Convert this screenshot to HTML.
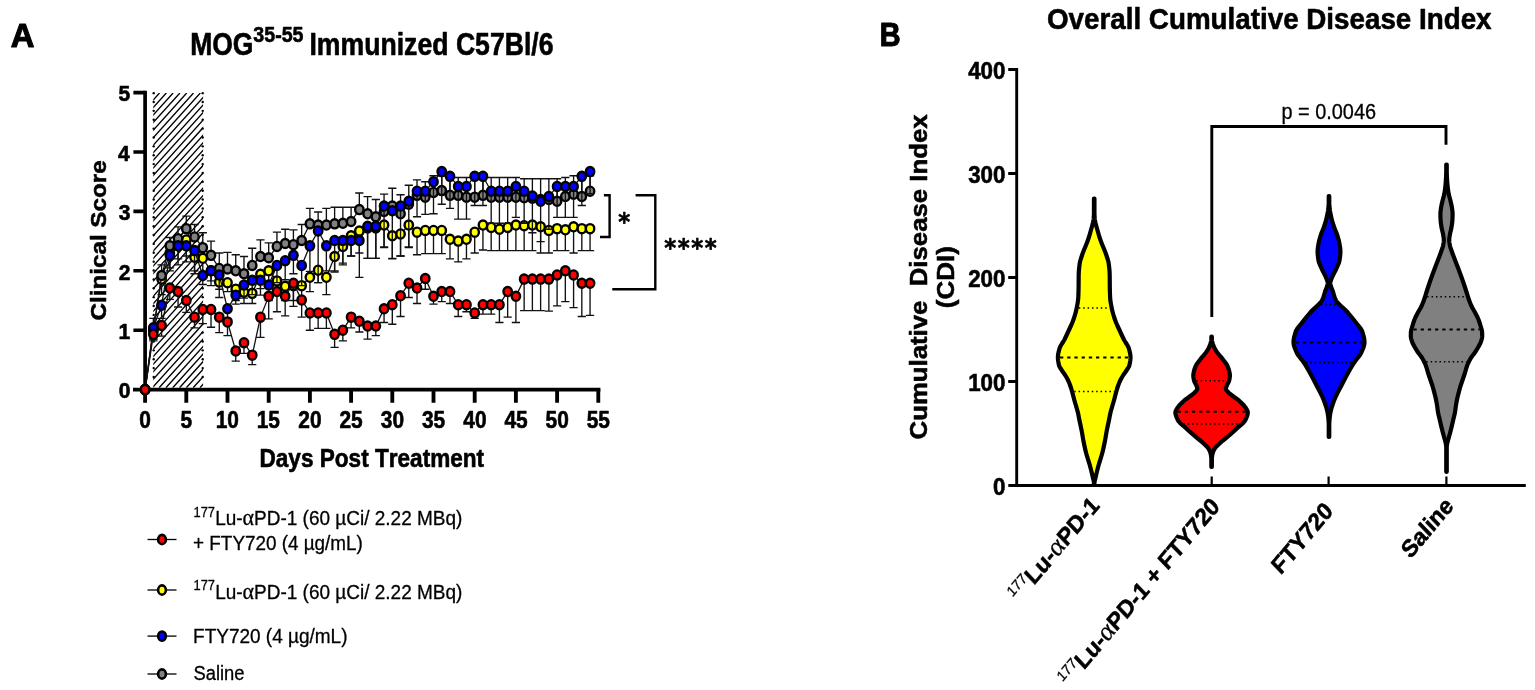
<!DOCTYPE html><html><head><meta charset="utf-8"><title>Figure</title><style>html,body{margin:0;padding:0;background:#fff;}svg{display:block;}text{font-kerning:none;}</style></head><body><svg width="1535" height="690" viewBox="0 0 1535 690" font-family="'Liberation Sans', Arial, Helvetica, sans-serif">
<style>text{stroke:#000;stroke-width:0.3px;stroke-linejoin:round}[font-weight=bold]{stroke-width:0.6px}[font-weight=normal]{stroke-width:0.3px}</style>
<rect width="1535" height="690" fill="#fff"/>
<clipPath id="hc"><rect x="153.3" y="93.0" width="49.79999999999998" height="294.8"/></clipPath>
<path clip-path="url(#hc)" d="M152.70,93.00L-112.89,387.80M159.50,93.00L-106.09,387.80M166.30,93.00L-99.29,387.80M173.10,93.00L-92.49,387.80M179.90,93.00L-85.69,387.80M186.70,93.00L-78.89,387.80M193.50,93.00L-72.09,387.80M200.30,93.00L-65.29,387.80M207.10,93.00L-58.49,387.80M213.90,93.00L-51.69,387.80M220.70,93.00L-44.89,387.80M227.50,93.00L-38.09,387.80M234.30,93.00L-31.29,387.80M241.10,93.00L-24.49,387.80M247.90,93.00L-17.69,387.80M254.70,93.00L-10.89,387.80M261.50,93.00L-4.09,387.80M268.30,93.00L2.71,387.80M275.10,93.00L9.51,387.80M281.90,93.00L16.31,387.80M288.70,93.00L23.11,387.80M295.50,93.00L29.91,387.80M302.30,93.00L36.71,387.80M309.10,93.00L43.51,387.80M315.90,93.00L50.31,387.80M322.70,93.00L57.11,387.80M329.50,93.00L63.91,387.80M336.30,93.00L70.71,387.80M343.10,93.00L77.51,387.80M349.90,93.00L84.31,387.80M356.70,93.00L91.11,387.80M363.50,93.00L97.91,387.80M370.30,93.00L104.71,387.80M377.10,93.00L111.51,387.80M383.90,93.00L118.31,387.80M390.70,93.00L125.11,387.80M397.50,93.00L131.91,387.80M404.30,93.00L138.71,387.80M411.10,93.00L145.51,387.80M417.90,93.00L152.31,387.80M424.70,93.00L159.11,387.80M431.50,93.00L165.91,387.80M438.30,93.00L172.71,387.80M445.10,93.00L179.51,387.80M451.90,93.00L186.31,387.80M458.70,93.00L193.11,387.80M465.50,93.00L199.91,387.80M472.30,93.00L206.71,387.80" stroke="#000" stroke-width="1.35" fill="none"/>
<g fill="#000"><circle cx="153.70" cy="93.13" r="1.2"/><circle cx="202.70" cy="93.13" r="1.2"/><circle cx="153.70" cy="102.00" r="1.2"/><circle cx="202.70" cy="102.00" r="1.2"/><circle cx="153.70" cy="110.87" r="1.2"/><circle cx="202.70" cy="110.87" r="1.2"/><circle cx="153.70" cy="119.74" r="1.2"/><circle cx="202.70" cy="119.74" r="1.2"/><circle cx="153.70" cy="128.61" r="1.2"/><circle cx="202.70" cy="128.61" r="1.2"/><circle cx="153.70" cy="137.48" r="1.2"/><circle cx="202.70" cy="137.48" r="1.2"/><circle cx="153.70" cy="146.35" r="1.2"/><circle cx="202.70" cy="146.35" r="1.2"/><circle cx="153.70" cy="155.22" r="1.2"/><circle cx="202.70" cy="155.22" r="1.2"/><circle cx="153.70" cy="164.09" r="1.2"/><circle cx="202.70" cy="164.09" r="1.2"/><circle cx="153.70" cy="172.96" r="1.2"/><circle cx="202.70" cy="172.96" r="1.2"/><circle cx="153.70" cy="181.83" r="1.2"/><circle cx="202.70" cy="181.83" r="1.2"/><circle cx="153.70" cy="190.70" r="1.2"/><circle cx="202.70" cy="190.70" r="1.2"/><circle cx="153.70" cy="199.57" r="1.2"/><circle cx="202.70" cy="199.57" r="1.2"/><circle cx="153.70" cy="208.44" r="1.2"/><circle cx="202.70" cy="208.44" r="1.2"/><circle cx="153.70" cy="217.31" r="1.2"/><circle cx="202.70" cy="217.31" r="1.2"/><circle cx="153.70" cy="226.18" r="1.2"/><circle cx="202.70" cy="226.18" r="1.2"/><circle cx="153.70" cy="235.05" r="1.2"/><circle cx="202.70" cy="235.05" r="1.2"/><circle cx="153.70" cy="243.92" r="1.2"/><circle cx="202.70" cy="243.92" r="1.2"/><circle cx="153.70" cy="252.79" r="1.2"/><circle cx="202.70" cy="252.79" r="1.2"/><circle cx="153.70" cy="261.66" r="1.2"/><circle cx="202.70" cy="261.66" r="1.2"/><circle cx="153.70" cy="270.53" r="1.2"/><circle cx="202.70" cy="270.53" r="1.2"/><circle cx="153.70" cy="279.40" r="1.2"/><circle cx="202.70" cy="279.40" r="1.2"/><circle cx="153.70" cy="288.27" r="1.2"/><circle cx="202.70" cy="288.27" r="1.2"/><circle cx="153.70" cy="297.14" r="1.2"/><circle cx="202.70" cy="297.14" r="1.2"/><circle cx="153.70" cy="306.01" r="1.2"/><circle cx="202.70" cy="306.01" r="1.2"/><circle cx="153.70" cy="314.88" r="1.2"/><circle cx="202.70" cy="314.88" r="1.2"/><circle cx="153.70" cy="323.75" r="1.2"/><circle cx="202.70" cy="323.75" r="1.2"/><circle cx="153.70" cy="332.62" r="1.2"/><circle cx="202.70" cy="332.62" r="1.2"/><circle cx="153.70" cy="341.49" r="1.2"/><circle cx="202.70" cy="341.49" r="1.2"/><circle cx="153.70" cy="350.36" r="1.2"/><circle cx="202.70" cy="350.36" r="1.2"/><circle cx="153.70" cy="359.23" r="1.2"/><circle cx="202.70" cy="359.23" r="1.2"/><circle cx="153.70" cy="368.10" r="1.2"/><circle cx="202.70" cy="368.10" r="1.2"/><circle cx="153.70" cy="376.97" r="1.2"/><circle cx="202.70" cy="376.97" r="1.2"/></g>
<g stroke="#000" fill="none">
<path d="M145.1,90.8V391.5" stroke-width="3.7"/>
<path d="M133.0,389.6H600.4" stroke-width="3.8"/>
<path d="M133.4,330.20H145M133.4,270.80H145M133.4,211.40H145M133.4,152.00H145M133.4,92.60H145" stroke-width="3.6"/>
<path d="M145.10,389.6V402.7M186.30,389.6V402.7M227.50,389.6V402.7M268.70,389.6V402.7M309.90,389.6V402.7M351.10,389.6V402.7M392.30,389.6V402.7M433.50,389.6V402.7M474.70,389.6V402.7M515.90,389.6V402.7M557.10,389.6V402.7M598.30,389.6V402.7" stroke-width="3.85"/>
</g>
<path d="M153.34,330.20V339.11M149.24,339.11H157.44M161.58,279.12V294.56M157.48,294.56H165.68M169.82,252.98V267.83M165.72,267.83H173.92M178.06,244.07V258.92M173.96,258.92H182.16M186.30,239.91V255.95M182.20,255.95H190.40M194.54,257.14V273.77M190.44,273.77H198.64M202.78,258.33V273.77M198.68,273.77H206.88M211.02,270.80V285.65M206.92,285.65H215.12M219.26,282.09V297.53M215.16,297.53H223.36M227.50,282.68V291.59M223.40,291.59H231.60M235.74,289.21V300.50M231.64,300.50H239.84M243.98,292.18V303.47M239.88,303.47H248.08M252.22,293.37V303.47M248.12,303.47H256.32M260.46,274.36V288.62M256.36,288.62H264.56M268.70,270.80V285.65M264.60,285.65H272.80M276.94,280.90V294.56M272.84,294.56H281.04M285.18,286.24V300.50M281.08,300.50H289.28M293.42,285.65V300.50M289.32,300.50H297.52M301.66,285.65V300.50M297.56,300.50H305.76M309.90,277.33V291.59M305.80,291.59H314.00M318.14,270.21V282.68M314.04,282.68H322.24M326.38,277.33V294.56M322.28,294.56H330.48M334.62,256.54V271.99M330.52,271.99H338.72M342.86,246.45V263.08M338.76,263.08H346.96M351.10,235.75V255.95M347.00,255.95H355.20M359.34,231.00V252.98M355.24,252.98H363.44M367.58,228.03V258.33M363.48,258.33H371.68M375.82,228.03V258.33M371.72,258.33H379.92M384.06,225.06V247.63M379.96,247.63H388.16M392.30,235.75V258.92M388.20,258.92H396.40M400.54,233.97V255.95M396.44,255.95H404.64M408.78,225.06V247.63M404.68,247.63H412.88M417.02,232.19V254.76M412.92,254.76H421.12M425.26,230.41V253.57M421.16,253.57H429.36M433.50,230.41V253.57M429.40,253.57H437.60M441.74,230.41V253.57M437.64,253.57H445.84M449.98,239.32V258.92M445.88,258.92H454.08M458.22,241.10V261.89M454.12,261.89H462.32M466.46,239.32V258.92M462.36,258.92H470.56M474.70,232.19V252.98M470.60,252.98H478.80M482.94,225.06V250.01M478.84,250.01H487.04M491.18,227.44V250.60M487.08,250.60H495.28M499.42,229.22V250.60M495.32,250.60H503.52M507.66,227.44V250.60M503.56,250.60H511.76M515.90,225.06V250.60M511.80,250.60H520.00M524.14,225.66V250.60M520.04,250.60H528.24M532.38,225.06V250.60M528.28,250.60H536.48M540.62,226.84V252.98M536.52,252.98H544.72M548.86,230.41V252.98M544.76,252.98H552.96M557.10,228.63V250.60M553.00,250.60H561.20M565.34,229.81V250.60M561.24,250.60H569.44M573.58,226.84V252.98M569.48,252.98H577.68M581.82,228.63V250.60M577.72,250.60H585.92M590.06,228.63V250.60M585.96,250.60H594.16" stroke="#111" stroke-width="1.35" fill="none"/>
<polyline points="145.10,389.60 153.34,330.20 161.58,279.12 169.82,252.98 178.06,244.07 186.30,239.91 194.54,257.14 202.78,258.33 211.02,270.80 219.26,282.09 227.50,282.68 235.74,289.21 243.98,292.18 252.22,293.37 260.46,274.36 268.70,270.80 276.94,280.90 285.18,286.24 293.42,285.65 301.66,285.65 309.90,277.33 318.14,270.21 326.38,277.33 334.62,256.54 342.86,246.45 351.10,235.75 359.34,231.00 367.58,228.03 375.82,228.03 384.06,225.06 392.30,235.75 400.54,233.97 408.78,225.06 417.02,232.19 425.26,230.41 433.50,230.41 441.74,230.41 449.98,239.32 458.22,241.10 466.46,239.32 474.70,232.19 482.94,225.06 491.18,227.44 499.42,229.22 507.66,227.44 515.90,225.06 524.14,225.66 532.38,225.06 540.62,226.84 548.86,230.41 557.10,228.63 565.34,229.81 573.58,226.84 581.82,228.63 590.06,228.63" stroke="#111" stroke-width="1.3" fill="none"/>
<g fill="#ffff00" stroke="#000" stroke-width="2.4"><ellipse cx="145.10" cy="389.60" rx="4.2" ry="4.55"/><ellipse cx="153.34" cy="330.20" rx="4.2" ry="4.55"/><ellipse cx="161.58" cy="279.12" rx="4.2" ry="4.55"/><ellipse cx="169.82" cy="252.98" rx="4.2" ry="4.55"/><ellipse cx="178.06" cy="244.07" rx="4.2" ry="4.55"/><ellipse cx="186.30" cy="239.91" rx="4.2" ry="4.55"/><ellipse cx="194.54" cy="257.14" rx="4.2" ry="4.55"/><ellipse cx="202.78" cy="258.33" rx="4.2" ry="4.55"/><ellipse cx="211.02" cy="270.80" rx="4.2" ry="4.55"/><ellipse cx="219.26" cy="282.09" rx="4.2" ry="4.55"/><ellipse cx="227.50" cy="282.68" rx="4.2" ry="4.55"/><ellipse cx="235.74" cy="289.21" rx="4.2" ry="4.55"/><ellipse cx="243.98" cy="292.18" rx="4.2" ry="4.55"/><ellipse cx="252.22" cy="293.37" rx="4.2" ry="4.55"/><ellipse cx="260.46" cy="274.36" rx="4.2" ry="4.55"/><ellipse cx="268.70" cy="270.80" rx="4.2" ry="4.55"/><ellipse cx="276.94" cy="280.90" rx="4.2" ry="4.55"/><ellipse cx="285.18" cy="286.24" rx="4.2" ry="4.55"/><ellipse cx="293.42" cy="285.65" rx="4.2" ry="4.55"/><ellipse cx="301.66" cy="285.65" rx="4.2" ry="4.55"/><ellipse cx="309.90" cy="277.33" rx="4.2" ry="4.55"/><ellipse cx="318.14" cy="270.21" rx="4.2" ry="4.55"/><ellipse cx="326.38" cy="277.33" rx="4.2" ry="4.55"/><ellipse cx="334.62" cy="256.54" rx="4.2" ry="4.55"/><ellipse cx="342.86" cy="246.45" rx="4.2" ry="4.55"/><ellipse cx="351.10" cy="235.75" rx="4.2" ry="4.55"/><ellipse cx="359.34" cy="231.00" rx="4.2" ry="4.55"/><ellipse cx="367.58" cy="228.03" rx="4.2" ry="4.55"/><ellipse cx="375.82" cy="228.03" rx="4.2" ry="4.55"/><ellipse cx="384.06" cy="225.06" rx="4.2" ry="4.55"/><ellipse cx="392.30" cy="235.75" rx="4.2" ry="4.55"/><ellipse cx="400.54" cy="233.97" rx="4.2" ry="4.55"/><ellipse cx="408.78" cy="225.06" rx="4.2" ry="4.55"/><ellipse cx="417.02" cy="232.19" rx="4.2" ry="4.55"/><ellipse cx="425.26" cy="230.41" rx="4.2" ry="4.55"/><ellipse cx="433.50" cy="230.41" rx="4.2" ry="4.55"/><ellipse cx="441.74" cy="230.41" rx="4.2" ry="4.55"/><ellipse cx="449.98" cy="239.32" rx="4.2" ry="4.55"/><ellipse cx="458.22" cy="241.10" rx="4.2" ry="4.55"/><ellipse cx="466.46" cy="239.32" rx="4.2" ry="4.55"/><ellipse cx="474.70" cy="232.19" rx="4.2" ry="4.55"/><ellipse cx="482.94" cy="225.06" rx="4.2" ry="4.55"/><ellipse cx="491.18" cy="227.44" rx="4.2" ry="4.55"/><ellipse cx="499.42" cy="229.22" rx="4.2" ry="4.55"/><ellipse cx="507.66" cy="227.44" rx="4.2" ry="4.55"/><ellipse cx="515.90" cy="225.06" rx="4.2" ry="4.55"/><ellipse cx="524.14" cy="225.66" rx="4.2" ry="4.55"/><ellipse cx="532.38" cy="225.06" rx="4.2" ry="4.55"/><ellipse cx="540.62" cy="226.84" rx="4.2" ry="4.55"/><ellipse cx="548.86" cy="230.41" rx="4.2" ry="4.55"/><ellipse cx="557.10" cy="228.63" rx="4.2" ry="4.55"/><ellipse cx="565.34" cy="229.81" rx="4.2" ry="4.55"/><ellipse cx="573.58" cy="226.84" rx="4.2" ry="4.55"/><ellipse cx="581.82" cy="228.63" rx="4.2" ry="4.55"/><ellipse cx="590.06" cy="228.63" rx="4.2" ry="4.55"/></g>
<path d="M153.34,330.20V318.32M149.24,318.32H157.44M161.58,275.55V264.86M157.48,264.86H165.68M169.82,245.85V237.54M165.72,237.54H173.92M178.06,238.72V226.84M173.96,226.84H182.16M186.30,228.63V216.15M182.20,216.15H190.40M194.54,236.94V224.47M190.44,224.47H198.64M202.78,247.63V232.78M198.68,232.78H206.88M211.02,255.36V241.10M206.92,241.10H215.12M219.26,268.42V252.98M215.16,252.98H223.36M227.50,269.02V252.39M223.40,252.39H231.60M235.74,270.80V254.76M231.64,254.76H239.84M243.98,273.77V256.54M239.88,256.54H248.08M252.22,265.45V248.23M248.12,248.23H256.32M260.46,256.54V239.91M256.36,239.91H264.56M268.70,257.73V242.88M264.60,242.88H272.80M276.94,246.45V232.19M272.84,232.19H281.04M285.18,243.48V229.22M281.08,229.22H289.28M293.42,244.66V229.81M289.32,229.81H297.52M301.66,240.51V224.47M297.56,224.47H305.76M309.90,223.87V208.43M305.80,208.43H314.00M318.14,225.06V211.99M314.04,211.99H322.24M326.38,225.06V208.43M322.28,208.43H330.48M334.62,223.87V207.24M330.52,207.24H338.72M342.86,223.28V207.24M338.76,207.24H346.96M351.10,221.50V207.24M347.00,207.24H355.20M359.34,209.62V192.99M355.24,192.99H363.44M367.58,213.78V196.55M363.48,196.55H371.68M375.82,216.75V199.52M371.72,199.52H379.92M384.06,211.40V194.17M379.96,194.17H388.16M392.30,206.05V188.23M388.20,188.23H396.40M400.54,213.78V194.77M396.44,194.77H404.64M408.78,204.27V185.26M404.68,185.26H412.88M417.02,195.36V179.92M412.92,179.92H421.12M425.26,197.14V181.70M421.16,181.70H429.36M433.50,192.39V175.76M429.40,175.76H437.60M441.74,190.61V175.76M437.64,175.76H445.84M449.98,195.36V177.54M445.88,177.54H454.08M458.22,195.36V177.54M454.12,177.54H462.32M466.46,197.14V177.54M462.36,177.54H470.56M474.70,197.14V177.54M470.60,177.54H478.80M482.94,195.36V177.54M478.84,177.54H487.04M491.18,197.14V177.54M487.08,177.54H495.28M499.42,197.14V177.54M495.32,177.54H503.52M507.66,197.14V177.54M503.56,177.54H511.76M515.90,197.14V177.54M511.80,177.54H520.00M524.14,197.74V178.73M520.04,178.73H528.24M532.38,198.33V178.73M528.28,178.73H536.48M540.62,199.52V178.73M536.52,178.73H544.72M548.86,199.52V178.73M544.76,178.73H552.96M557.10,201.30V178.73M553.00,178.73H561.20M565.34,196.55V177.54M561.24,177.54H569.44M573.58,194.17V175.76M569.48,175.76H577.68M581.82,196.55V177.54M577.72,177.54H585.92M590.06,191.20V175.76M585.96,175.76H594.16" stroke="#111" stroke-width="1.35" fill="none"/>
<polyline points="145.10,389.60 153.34,330.20 161.58,275.55 169.82,245.85 178.06,238.72 186.30,228.63 194.54,236.94 202.78,247.63 211.02,255.36 219.26,268.42 227.50,269.02 235.74,270.80 243.98,273.77 252.22,265.45 260.46,256.54 268.70,257.73 276.94,246.45 285.18,243.48 293.42,244.66 301.66,240.51 309.90,223.87 318.14,225.06 326.38,225.06 334.62,223.87 342.86,223.28 351.10,221.50 359.34,209.62 367.58,213.78 375.82,216.75 384.06,211.40 392.30,206.05 400.54,213.78 408.78,204.27 417.02,195.36 425.26,197.14 433.50,192.39 441.74,190.61 449.98,195.36 458.22,195.36 466.46,197.14 474.70,197.14 482.94,195.36 491.18,197.14 499.42,197.14 507.66,197.14 515.90,197.14 524.14,197.74 532.38,198.33 540.62,199.52 548.86,199.52 557.10,201.30 565.34,196.55 573.58,194.17 581.82,196.55 590.06,191.20" stroke="#111" stroke-width="1.3" fill="none"/>
<g fill="#808080" stroke="#000" stroke-width="2.4"><ellipse cx="145.10" cy="389.60" rx="4.2" ry="4.55"/><ellipse cx="153.34" cy="330.20" rx="4.2" ry="4.55"/><ellipse cx="161.58" cy="275.55" rx="4.2" ry="4.55"/><ellipse cx="169.82" cy="245.85" rx="4.2" ry="4.55"/><ellipse cx="178.06" cy="238.72" rx="4.2" ry="4.55"/><ellipse cx="186.30" cy="228.63" rx="4.2" ry="4.55"/><ellipse cx="194.54" cy="236.94" rx="4.2" ry="4.55"/><ellipse cx="202.78" cy="247.63" rx="4.2" ry="4.55"/><ellipse cx="211.02" cy="255.36" rx="4.2" ry="4.55"/><ellipse cx="219.26" cy="268.42" rx="4.2" ry="4.55"/><ellipse cx="227.50" cy="269.02" rx="4.2" ry="4.55"/><ellipse cx="235.74" cy="270.80" rx="4.2" ry="4.55"/><ellipse cx="243.98" cy="273.77" rx="4.2" ry="4.55"/><ellipse cx="252.22" cy="265.45" rx="4.2" ry="4.55"/><ellipse cx="260.46" cy="256.54" rx="4.2" ry="4.55"/><ellipse cx="268.70" cy="257.73" rx="4.2" ry="4.55"/><ellipse cx="276.94" cy="246.45" rx="4.2" ry="4.55"/><ellipse cx="285.18" cy="243.48" rx="4.2" ry="4.55"/><ellipse cx="293.42" cy="244.66" rx="4.2" ry="4.55"/><ellipse cx="301.66" cy="240.51" rx="4.2" ry="4.55"/><ellipse cx="309.90" cy="223.87" rx="4.2" ry="4.55"/><ellipse cx="318.14" cy="225.06" rx="4.2" ry="4.55"/><ellipse cx="326.38" cy="225.06" rx="4.2" ry="4.55"/><ellipse cx="334.62" cy="223.87" rx="4.2" ry="4.55"/><ellipse cx="342.86" cy="223.28" rx="4.2" ry="4.55"/><ellipse cx="351.10" cy="221.50" rx="4.2" ry="4.55"/><ellipse cx="359.34" cy="209.62" rx="4.2" ry="4.55"/><ellipse cx="367.58" cy="213.78" rx="4.2" ry="4.55"/><ellipse cx="375.82" cy="216.75" rx="4.2" ry="4.55"/><ellipse cx="384.06" cy="211.40" rx="4.2" ry="4.55"/><ellipse cx="392.30" cy="206.05" rx="4.2" ry="4.55"/><ellipse cx="400.54" cy="213.78" rx="4.2" ry="4.55"/><ellipse cx="408.78" cy="204.27" rx="4.2" ry="4.55"/><ellipse cx="417.02" cy="195.36" rx="4.2" ry="4.55"/><ellipse cx="425.26" cy="197.14" rx="4.2" ry="4.55"/><ellipse cx="433.50" cy="192.39" rx="4.2" ry="4.55"/><ellipse cx="441.74" cy="190.61" rx="4.2" ry="4.55"/><ellipse cx="449.98" cy="195.36" rx="4.2" ry="4.55"/><ellipse cx="458.22" cy="195.36" rx="4.2" ry="4.55"/><ellipse cx="466.46" cy="197.14" rx="4.2" ry="4.55"/><ellipse cx="474.70" cy="197.14" rx="4.2" ry="4.55"/><ellipse cx="482.94" cy="195.36" rx="4.2" ry="4.55"/><ellipse cx="491.18" cy="197.14" rx="4.2" ry="4.55"/><ellipse cx="499.42" cy="197.14" rx="4.2" ry="4.55"/><ellipse cx="507.66" cy="197.14" rx="4.2" ry="4.55"/><ellipse cx="515.90" cy="197.14" rx="4.2" ry="4.55"/><ellipse cx="524.14" cy="197.74" rx="4.2" ry="4.55"/><ellipse cx="532.38" cy="198.33" rx="4.2" ry="4.55"/><ellipse cx="540.62" cy="199.52" rx="4.2" ry="4.55"/><ellipse cx="548.86" cy="199.52" rx="4.2" ry="4.55"/><ellipse cx="557.10" cy="201.30" rx="4.2" ry="4.55"/><ellipse cx="565.34" cy="196.55" rx="4.2" ry="4.55"/><ellipse cx="573.58" cy="194.17" rx="4.2" ry="4.55"/><ellipse cx="581.82" cy="196.55" rx="4.2" ry="4.55"/><ellipse cx="590.06" cy="191.20" rx="4.2" ry="4.55"/></g>
<path d="M153.34,327.82V339.11M149.24,339.11H157.44M161.58,305.25V318.32M157.48,318.32H165.68M169.82,255.36V270.80M165.72,270.80H173.92M178.06,245.85V264.86M173.96,264.86H182.16M186.30,245.85V261.89M182.20,261.89H190.40M194.54,250.60V270.80M190.44,270.80H198.64M202.78,275.55V284.46M198.68,284.46H206.88M211.02,270.80V280.90M206.92,280.90H215.12M219.26,274.96V289.21M215.16,289.21H223.36M227.50,308.82V324.26M223.40,324.26H231.60M235.74,295.15V304.06M231.64,304.06H239.84M243.98,285.06V298.12M239.88,298.12H248.08M252.22,280.30V294.56M248.12,294.56H256.32M260.46,280.30V295.15M256.36,295.15H264.56M268.70,285.06V300.50M264.60,300.50H272.80M276.94,265.45V282.68M272.84,282.68H281.04M285.18,260.70V279.71M281.08,279.71H289.28M293.42,255.36V273.77M289.32,273.77H297.52M301.66,265.45V285.65M297.56,285.65H305.76M309.90,245.85V271.39M305.80,271.39H314.00M318.14,231.00V282.68M314.04,282.68H322.24M326.38,245.85V270.80M322.28,270.80H330.48M334.62,240.51V270.80M330.52,270.80H338.72M342.86,240.51V264.86M338.76,264.86H346.96M351.10,240.51V255.95M347.00,255.95H355.20M359.34,240.51V277.33M355.24,277.33H363.44M367.58,226.25V258.33M363.48,258.33H371.68M375.82,226.25V258.33M371.72,258.33H379.92M384.06,206.05V247.04M379.96,247.04H388.16M392.30,210.81V258.33M388.20,258.33H396.40M400.54,206.05V255.95M396.44,255.95H404.64M408.78,201.30V247.04M404.68,247.04H412.88M417.02,191.20V216.75M412.92,216.75H421.12M425.26,191.20V214.37M421.16,214.37H429.36M433.50,181.70V213.78M429.40,213.78H437.60M441.74,171.60V204.27M437.64,204.27H445.84M449.98,176.35V208.43M445.88,208.43H454.08M458.22,186.45V219.12M454.12,219.12H462.32M466.46,186.45V219.12M462.36,219.12H470.56M474.70,176.35V205.46M470.60,205.46H478.80M482.94,176.35V205.46M478.84,205.46H487.04M491.18,191.20V223.28M487.08,223.28H495.28M499.42,191.20V223.28M495.32,223.28H503.52M507.66,191.20V223.28M503.56,223.28H511.76M515.90,186.45V217.34M511.80,217.34H520.00M524.14,191.20V223.28M520.04,223.28H528.24M532.38,195.96V232.78M528.28,232.78H536.48M540.62,201.30V241.69M536.52,241.69H544.72M548.86,196.55V229.22M544.76,229.22H552.96M557.10,186.45V217.34M553.00,217.34H561.20M565.34,186.45V217.34M561.24,217.34H569.44M573.58,186.45V217.34M569.48,217.34H577.68M581.82,176.35V205.46M577.72,205.46H585.92M590.06,171.60V193.58M585.96,193.58H594.16" stroke="#111" stroke-width="1.35" fill="none"/>
<polyline points="145.10,389.60 153.34,327.82 161.58,305.25 169.82,255.36 178.06,245.85 186.30,245.85 194.54,250.60 202.78,275.55 211.02,270.80 219.26,274.96 227.50,308.82 235.74,295.15 243.98,285.06 252.22,280.30 260.46,280.30 268.70,285.06 276.94,265.45 285.18,260.70 293.42,255.36 301.66,265.45 309.90,245.85 318.14,231.00 326.38,245.85 334.62,240.51 342.86,240.51 351.10,240.51 359.34,240.51 367.58,226.25 375.82,226.25 384.06,206.05 392.30,210.81 400.54,206.05 408.78,201.30 417.02,191.20 425.26,191.20 433.50,181.70 441.74,171.60 449.98,176.35 458.22,186.45 466.46,186.45 474.70,176.35 482.94,176.35 491.18,191.20 499.42,191.20 507.66,191.20 515.90,186.45 524.14,191.20 532.38,195.96 540.62,201.30 548.86,196.55 557.10,186.45 565.34,186.45 573.58,186.45 581.82,176.35 590.06,171.60" stroke="#111" stroke-width="1.3" fill="none"/>
<g fill="#0000ff" stroke="#000" stroke-width="2.4"><ellipse cx="145.10" cy="389.60" rx="4.2" ry="4.55"/><ellipse cx="153.34" cy="327.82" rx="4.2" ry="4.55"/><ellipse cx="161.58" cy="305.25" rx="4.2" ry="4.55"/><ellipse cx="169.82" cy="255.36" rx="4.2" ry="4.55"/><ellipse cx="178.06" cy="245.85" rx="4.2" ry="4.55"/><ellipse cx="186.30" cy="245.85" rx="4.2" ry="4.55"/><ellipse cx="194.54" cy="250.60" rx="4.2" ry="4.55"/><ellipse cx="202.78" cy="275.55" rx="4.2" ry="4.55"/><ellipse cx="211.02" cy="270.80" rx="4.2" ry="4.55"/><ellipse cx="219.26" cy="274.96" rx="4.2" ry="4.55"/><ellipse cx="227.50" cy="308.82" rx="4.2" ry="4.55"/><ellipse cx="235.74" cy="295.15" rx="4.2" ry="4.55"/><ellipse cx="243.98" cy="285.06" rx="4.2" ry="4.55"/><ellipse cx="252.22" cy="280.30" rx="4.2" ry="4.55"/><ellipse cx="260.46" cy="280.30" rx="4.2" ry="4.55"/><ellipse cx="268.70" cy="285.06" rx="4.2" ry="4.55"/><ellipse cx="276.94" cy="265.45" rx="4.2" ry="4.55"/><ellipse cx="285.18" cy="260.70" rx="4.2" ry="4.55"/><ellipse cx="293.42" cy="255.36" rx="4.2" ry="4.55"/><ellipse cx="301.66" cy="265.45" rx="4.2" ry="4.55"/><ellipse cx="309.90" cy="245.85" rx="4.2" ry="4.55"/><ellipse cx="318.14" cy="231.00" rx="4.2" ry="4.55"/><ellipse cx="326.38" cy="245.85" rx="4.2" ry="4.55"/><ellipse cx="334.62" cy="240.51" rx="4.2" ry="4.55"/><ellipse cx="342.86" cy="240.51" rx="4.2" ry="4.55"/><ellipse cx="351.10" cy="240.51" rx="4.2" ry="4.55"/><ellipse cx="359.34" cy="240.51" rx="4.2" ry="4.55"/><ellipse cx="367.58" cy="226.25" rx="4.2" ry="4.55"/><ellipse cx="375.82" cy="226.25" rx="4.2" ry="4.55"/><ellipse cx="384.06" cy="206.05" rx="4.2" ry="4.55"/><ellipse cx="392.30" cy="210.81" rx="4.2" ry="4.55"/><ellipse cx="400.54" cy="206.05" rx="4.2" ry="4.55"/><ellipse cx="408.78" cy="201.30" rx="4.2" ry="4.55"/><ellipse cx="417.02" cy="191.20" rx="4.2" ry="4.55"/><ellipse cx="425.26" cy="191.20" rx="4.2" ry="4.55"/><ellipse cx="433.50" cy="181.70" rx="4.2" ry="4.55"/><ellipse cx="441.74" cy="171.60" rx="4.2" ry="4.55"/><ellipse cx="449.98" cy="176.35" rx="4.2" ry="4.55"/><ellipse cx="458.22" cy="186.45" rx="4.2" ry="4.55"/><ellipse cx="466.46" cy="186.45" rx="4.2" ry="4.55"/><ellipse cx="474.70" cy="176.35" rx="4.2" ry="4.55"/><ellipse cx="482.94" cy="176.35" rx="4.2" ry="4.55"/><ellipse cx="491.18" cy="191.20" rx="4.2" ry="4.55"/><ellipse cx="499.42" cy="191.20" rx="4.2" ry="4.55"/><ellipse cx="507.66" cy="191.20" rx="4.2" ry="4.55"/><ellipse cx="515.90" cy="186.45" rx="4.2" ry="4.55"/><ellipse cx="524.14" cy="191.20" rx="4.2" ry="4.55"/><ellipse cx="532.38" cy="195.96" rx="4.2" ry="4.55"/><ellipse cx="540.62" cy="201.30" rx="4.2" ry="4.55"/><ellipse cx="548.86" cy="196.55" rx="4.2" ry="4.55"/><ellipse cx="557.10" cy="186.45" rx="4.2" ry="4.55"/><ellipse cx="565.34" cy="186.45" rx="4.2" ry="4.55"/><ellipse cx="573.58" cy="186.45" rx="4.2" ry="4.55"/><ellipse cx="581.82" cy="176.35" rx="4.2" ry="4.55"/><ellipse cx="590.06" cy="171.60" rx="4.2" ry="4.55"/></g>
<path d="M153.34,334.36V340.89M149.24,340.89H157.44M161.58,325.45V336.14M157.48,336.14H165.68M169.82,288.03V299.31M165.72,299.31H173.92M178.06,291.59V307.03M173.96,307.03H182.16M186.30,300.50V312.38M182.20,312.38H190.40M194.54,317.13V327.82M190.44,327.82H198.64M202.78,309.41V323.67M198.68,323.67H206.88M211.02,309.41V327.23M206.92,327.23H215.12M219.26,317.13V332.58M215.16,332.58H223.36M227.50,321.88V335.55M223.40,335.55H231.60M235.74,350.99V361.09M231.64,361.09H239.84M243.98,342.67V353.37M239.88,353.37H248.08M252.22,355.15V364.65M248.12,364.65H256.32M260.46,317.13V337.33M256.36,337.33H264.56M268.70,296.34V318.91M264.60,318.91H272.80M276.94,291.59V311.79M272.84,311.79H281.04M285.18,296.34V315.94M281.08,315.94H289.28M293.42,283.27V306.44M289.32,306.44H297.52M301.66,299.91V317.13M297.56,317.13H305.76M309.90,312.97V330.20M305.80,330.20H314.00M318.14,312.97V328.42M314.04,328.42H322.24M326.38,312.97V328.42M322.28,328.42H330.48M334.62,334.36V347.43M330.52,347.43H338.72M342.86,330.20V340.89M338.76,340.89H346.96M351.10,317.13V327.82M347.00,327.82H355.20M359.34,321.29V331.98M355.24,331.98H363.44M367.58,326.04V339.11M363.48,339.11H371.68M375.82,326.04V335.55M371.72,335.55H379.92M384.06,308.82V322.48M379.96,322.48H388.16M392.30,304.66V324.26M388.20,324.26H396.40M400.54,295.75V316.54M396.44,316.54H404.64M408.78,283.27V297.53M404.68,297.53H412.88M417.02,288.03V303.47M412.92,303.47H421.12M425.26,278.52V289.21M421.16,289.21H429.36M433.50,296.34V304.06M429.40,304.06H437.60M441.74,291.59V301.69M437.64,301.69H445.84M449.98,291.59V303.47M445.88,303.47H454.08M458.22,304.66V316.54M454.12,316.54H462.32M466.46,304.66V311.79M462.36,311.79H470.56M474.70,312.97V318.32M470.60,318.32H478.80M482.94,304.66V314.16M478.84,314.16H487.04M491.18,304.66V314.16M487.08,314.16H495.28M499.42,304.66V322.48M495.32,322.48H503.52M507.66,291.59V317.13M503.56,317.13H511.76M515.90,296.34V322.48M511.80,322.48H520.00M524.14,279.12V310.60M520.04,310.60H528.24M532.38,279.12V310.60M528.28,310.60H536.48M540.62,279.12V310.60M536.52,310.60H544.72M548.86,279.12V311.19M544.76,311.19H552.96M557.10,274.96V305.85M553.00,305.85H561.20M565.34,270.80V301.69M561.24,301.69H569.44M573.58,274.96V307.63M569.48,307.63H577.68M581.82,283.27V316.54M577.72,316.54H585.92M590.06,283.27V315.35M585.96,315.35H594.16" stroke="#111" stroke-width="1.35" fill="none"/>
<polyline points="145.10,389.60 153.34,334.36 161.58,325.45 169.82,288.03 178.06,291.59 186.30,300.50 194.54,317.13 202.78,309.41 211.02,309.41 219.26,317.13 227.50,321.88 235.74,350.99 243.98,342.67 252.22,355.15 260.46,317.13 268.70,296.34 276.94,291.59 285.18,296.34 293.42,283.27 301.66,299.91 309.90,312.97 318.14,312.97 326.38,312.97 334.62,334.36 342.86,330.20 351.10,317.13 359.34,321.29 367.58,326.04 375.82,326.04 384.06,308.82 392.30,304.66 400.54,295.75 408.78,283.27 417.02,288.03 425.26,278.52 433.50,296.34 441.74,291.59 449.98,291.59 458.22,304.66 466.46,304.66 474.70,312.97 482.94,304.66 491.18,304.66 499.42,304.66 507.66,291.59 515.90,296.34 524.14,279.12 532.38,279.12 540.62,279.12 548.86,279.12 557.10,274.96 565.34,270.80 573.58,274.96 581.82,283.27 590.06,283.27" stroke="#111" stroke-width="1.3" fill="none"/>
<g fill="#ff0000" stroke="#000" stroke-width="2.4"><ellipse cx="145.10" cy="389.60" rx="4.2" ry="4.55"/><ellipse cx="153.34" cy="334.36" rx="4.2" ry="4.55"/><ellipse cx="161.58" cy="325.45" rx="4.2" ry="4.55"/><ellipse cx="169.82" cy="288.03" rx="4.2" ry="4.55"/><ellipse cx="178.06" cy="291.59" rx="4.2" ry="4.55"/><ellipse cx="186.30" cy="300.50" rx="4.2" ry="4.55"/><ellipse cx="194.54" cy="317.13" rx="4.2" ry="4.55"/><ellipse cx="202.78" cy="309.41" rx="4.2" ry="4.55"/><ellipse cx="211.02" cy="309.41" rx="4.2" ry="4.55"/><ellipse cx="219.26" cy="317.13" rx="4.2" ry="4.55"/><ellipse cx="227.50" cy="321.88" rx="4.2" ry="4.55"/><ellipse cx="235.74" cy="350.99" rx="4.2" ry="4.55"/><ellipse cx="243.98" cy="342.67" rx="4.2" ry="4.55"/><ellipse cx="252.22" cy="355.15" rx="4.2" ry="4.55"/><ellipse cx="260.46" cy="317.13" rx="4.2" ry="4.55"/><ellipse cx="268.70" cy="296.34" rx="4.2" ry="4.55"/><ellipse cx="276.94" cy="291.59" rx="4.2" ry="4.55"/><ellipse cx="285.18" cy="296.34" rx="4.2" ry="4.55"/><ellipse cx="293.42" cy="283.27" rx="4.2" ry="4.55"/><ellipse cx="301.66" cy="299.91" rx="4.2" ry="4.55"/><ellipse cx="309.90" cy="312.97" rx="4.2" ry="4.55"/><ellipse cx="318.14" cy="312.97" rx="4.2" ry="4.55"/><ellipse cx="326.38" cy="312.97" rx="4.2" ry="4.55"/><ellipse cx="334.62" cy="334.36" rx="4.2" ry="4.55"/><ellipse cx="342.86" cy="330.20" rx="4.2" ry="4.55"/><ellipse cx="351.10" cy="317.13" rx="4.2" ry="4.55"/><ellipse cx="359.34" cy="321.29" rx="4.2" ry="4.55"/><ellipse cx="367.58" cy="326.04" rx="4.2" ry="4.55"/><ellipse cx="375.82" cy="326.04" rx="4.2" ry="4.55"/><ellipse cx="384.06" cy="308.82" rx="4.2" ry="4.55"/><ellipse cx="392.30" cy="304.66" rx="4.2" ry="4.55"/><ellipse cx="400.54" cy="295.75" rx="4.2" ry="4.55"/><ellipse cx="408.78" cy="283.27" rx="4.2" ry="4.55"/><ellipse cx="417.02" cy="288.03" rx="4.2" ry="4.55"/><ellipse cx="425.26" cy="278.52" rx="4.2" ry="4.55"/><ellipse cx="433.50" cy="296.34" rx="4.2" ry="4.55"/><ellipse cx="441.74" cy="291.59" rx="4.2" ry="4.55"/><ellipse cx="449.98" cy="291.59" rx="4.2" ry="4.55"/><ellipse cx="458.22" cy="304.66" rx="4.2" ry="4.55"/><ellipse cx="466.46" cy="304.66" rx="4.2" ry="4.55"/><ellipse cx="474.70" cy="312.97" rx="4.2" ry="4.55"/><ellipse cx="482.94" cy="304.66" rx="4.2" ry="4.55"/><ellipse cx="491.18" cy="304.66" rx="4.2" ry="4.55"/><ellipse cx="499.42" cy="304.66" rx="4.2" ry="4.55"/><ellipse cx="507.66" cy="291.59" rx="4.2" ry="4.55"/><ellipse cx="515.90" cy="296.34" rx="4.2" ry="4.55"/><ellipse cx="524.14" cy="279.12" rx="4.2" ry="4.55"/><ellipse cx="532.38" cy="279.12" rx="4.2" ry="4.55"/><ellipse cx="540.62" cy="279.12" rx="4.2" ry="4.55"/><ellipse cx="548.86" cy="279.12" rx="4.2" ry="4.55"/><ellipse cx="557.10" cy="274.96" rx="4.2" ry="4.55"/><ellipse cx="565.34" cy="270.80" rx="4.2" ry="4.55"/><ellipse cx="573.58" cy="274.96" rx="4.2" ry="4.55"/><ellipse cx="581.82" cy="283.27" rx="4.2" ry="4.55"/><ellipse cx="590.06" cy="283.27" rx="4.2" ry="4.55"/></g>
<text transform="translate(118.85,398.39) scale(0.9200,1)" font-size="22.90" font-weight="bold" fill="#000" >0</text>
<text transform="translate(118.57,338.99) scale(0.9200,1)" font-size="22.90" font-weight="bold" fill="#000" >1</text>
<text transform="translate(118.83,279.59) scale(0.9200,1)" font-size="22.90" font-weight="bold" fill="#000" >2</text>
<text transform="translate(118.74,220.19) scale(0.9200,1)" font-size="22.90" font-weight="bold" fill="#000" >3</text>
<text transform="translate(118.10,160.79) scale(0.9200,1)" font-size="22.90" font-weight="bold" fill="#000" >4</text>
<text transform="translate(118.57,101.39) scale(0.9200,1)" font-size="22.90" font-weight="bold" fill="#000" >5</text>
<text transform="translate(139.30,428.40) scale(0.8900,1)" font-size="23.50" font-weight="bold" fill="#000" >0</text>
<text transform="translate(180.45,428.40) scale(0.8900,1)" font-size="23.50" font-weight="bold" fill="#000" >5</text>
<text transform="translate(215.64,428.40) scale(0.8900,1)" font-size="23.50" font-weight="bold" fill="#000" >10</text>
<text transform="translate(256.70,428.40) scale(0.8900,1)" font-size="23.50" font-weight="bold" fill="#000" >15</text>
<text transform="translate(298.33,428.40) scale(0.8900,1)" font-size="23.50" font-weight="bold" fill="#000" >20</text>
<text transform="translate(339.40,428.40) scale(0.8900,1)" font-size="23.50" font-weight="bold" fill="#000" >25</text>
<text transform="translate(380.86,428.40) scale(0.8900,1)" font-size="23.50" font-weight="bold" fill="#000" >30</text>
<text transform="translate(421.92,428.40) scale(0.8900,1)" font-size="23.50" font-weight="bold" fill="#000" >35</text>
<text transform="translate(463.34,428.40) scale(0.8900,1)" font-size="23.50" font-weight="bold" fill="#000" >40</text>
<text transform="translate(504.40,428.40) scale(0.8900,1)" font-size="23.50" font-weight="bold" fill="#000" >45</text>
<text transform="translate(545.58,428.40) scale(0.8900,1)" font-size="23.50" font-weight="bold" fill="#000" >50</text>
<text transform="translate(586.64,428.40) scale(0.8900,1)" font-size="23.50" font-weight="bold" fill="#000" >55</text>
<text transform="translate(259.49,466.50) scale(0.8986,1)" font-size="25.15" font-weight="bold" fill="#000" >Days Post Treatment</text>
<text transform="translate(105.70,320.49) scale(0.8830,1) rotate(-90) scale(1.0011,1)" font-size="24.20" font-weight="bold">Clinical Score</text>
<text transform="translate(190.13,54.70) scale(0.8643,1)" font-size="30.67" font-weight="bold" fill="#000" >MOG</text>
<text transform="translate(253.35,42.30) scale(0.9194,1)" font-size="21.35" font-weight="bold" fill="#000" >35-55</text>
<text transform="translate(309.42,54.70) scale(0.8682,1)" font-size="30.67" font-weight="bold" fill="#000" >Immunized C57Bl/6</text>
<text transform="translate(10.83,46.65) scale(0.9641,1)" font-size="34.01" font-weight="bold" fill="#000" style="stroke-width:1.1px">A</text>
<g stroke="#000" stroke-width="2.4" fill="none">
<path d="M603.9,195.3H609.6V237H600"/>
<path d="M635.6,195.3H655.3V289.2H612.3"/>
</g>
<text transform="translate(618.24,229.64) scale(0.94,1)" font-family="'DejaVu Sans', sans-serif" font-size="24.3" font-weight="bold" stroke="#000" stroke-width="0.6">*</text>
<text transform="translate(664.34,256.14) scale(0.94,1)" font-family="'DejaVu Sans', sans-serif" font-size="24.3" font-weight="bold" stroke="#000" stroke-width="0.6">*</text>
<text transform="translate(677.77,256.14) scale(0.94,1)" font-family="'DejaVu Sans', sans-serif" font-size="24.3" font-weight="bold" stroke="#000" stroke-width="0.6">*</text>
<text transform="translate(691.20,256.14) scale(0.94,1)" font-family="'DejaVu Sans', sans-serif" font-size="24.3" font-weight="bold" stroke="#000" stroke-width="0.6">*</text>
<text transform="translate(704.63,256.14) scale(0.94,1)" font-family="'DejaVu Sans', sans-serif" font-size="24.3" font-weight="bold" stroke="#000" stroke-width="0.6">*</text>
<g stroke="#000">
<path d="M147.5,539.5H176.5" stroke-width="1.3"/>
<ellipse cx="162.0" cy="539.5" rx="3.9" ry="4.65" fill="#ff0000" stroke-width="2.6"/>
<path d="M147.5,590.0H176.5" stroke-width="1.3"/>
<ellipse cx="162.0" cy="590.0" rx="3.9" ry="4.65" fill="#ffff00" stroke-width="2.6"/>
<path d="M147.5,636.1H176.5" stroke-width="1.3"/>
<ellipse cx="162.0" cy="636.1" rx="3.9" ry="4.65" fill="#0000ff" stroke-width="2.6"/>
<path d="M147.5,674.0H176.5" stroke-width="1.3"/>
<ellipse cx="162.0" cy="674.0" rx="3.9" ry="4.65" fill="#808080" stroke-width="2.6"/>
</g>
<text transform="translate(193.52,516.50) scale(0.9000,1)" font-size="14.30" font-weight="normal" fill="#000" >177</text>
<text transform="translate(215.14,524.80) scale(0.9313,1)" font-size="20.40" font-weight="normal" fill="#000" >Lu-<tspan font-family="'Liberation Serif', serif" font-weight="normal" font-size="115%">α</tspan>PD-1 (60 µCi/ 2.22 MBq)</text>
<text transform="translate(193.08,549.80) scale(0.9257,1)" font-size="20.40" font-weight="normal" fill="#000" >+ FTY720 (4 µg/mL)</text>
<text transform="translate(193.52,590.40) scale(0.9000,1)" font-size="14.30" font-weight="normal" fill="#000" >177</text>
<text transform="translate(215.14,598.70) scale(0.9313,1)" font-size="20.40" font-weight="normal" fill="#000" >Lu-<tspan font-family="'Liberation Serif', serif" font-weight="normal" font-size="115%">α</tspan>PD-1 (60 µCi/ 2.22 MBq)</text>
<text transform="translate(193.04,643.10) scale(0.9307,1)" font-size="20.40" font-weight="normal" fill="#000" >FTY720 (4 µg/mL)</text>
<text transform="translate(193.46,679.60) scale(0.9021,1)" font-size="20.40" font-weight="normal" fill="#000" >Saline</text>
<path d="M1094.45,198.50 L1094.45,199.00 L1094.45,199.50 L1094.45,200.00 L1094.45,200.50 L1094.45,201.00 L1094.45,201.50 L1094.45,202.00 L1094.45,202.50 L1094.45,203.00 L1094.45,203.50 L1094.45,204.00 L1094.45,204.50 L1094.45,205.00 L1094.45,205.50 L1094.45,206.00 L1094.45,206.50 L1094.45,207.00 L1094.45,207.50 L1094.45,208.00 L1094.45,208.50 L1094.45,209.00 L1094.45,209.50 L1094.45,210.00 L1094.45,210.50 L1094.45,211.00 L1094.45,211.50 L1094.45,212.00 L1094.45,212.50 L1094.45,213.00 L1094.45,213.50 L1094.45,214.00 L1094.48,214.50 L1094.50,215.00 L1094.53,215.50 L1094.56,216.00 L1094.59,216.50 L1094.63,217.00 L1094.66,217.50 L1094.70,218.00 L1094.75,218.50 L1094.80,219.00 L1094.87,219.50 L1094.94,220.00 L1095.03,220.50 L1095.11,221.00 L1095.20,221.50 L1095.30,222.00 L1095.41,222.50 L1095.52,223.00 L1095.65,223.50 L1095.77,224.00 L1095.90,224.50 L1096.03,225.00 L1096.16,225.50 L1096.29,226.00 L1096.42,226.50 L1096.56,227.00 L1096.70,227.50 L1096.84,228.00 L1096.99,228.50 L1097.13,229.00 L1097.28,229.50 L1097.43,230.00 L1097.57,230.50 L1097.71,231.00 L1097.85,231.50 L1097.99,232.00 L1098.13,232.50 L1098.26,233.00 L1098.40,233.50 L1098.54,234.00 L1098.68,234.50 L1098.82,235.00 L1098.97,235.50 L1099.12,236.00 L1099.28,236.50 L1099.44,237.00 L1099.60,237.50 L1099.76,238.00 L1099.93,238.50 L1100.10,239.00 L1100.27,239.50 L1100.45,240.00 L1100.63,240.50 L1100.81,241.00 L1100.99,241.50 L1101.18,242.00 L1101.38,242.50 L1101.57,243.00 L1101.77,243.50 L1101.97,244.00 L1102.18,244.50 L1102.38,245.00 L1102.58,245.50 L1102.78,246.00 L1102.99,246.50 L1103.19,247.00 L1103.40,247.50 L1103.61,248.00 L1103.82,248.50 L1104.03,249.00 L1104.24,249.50 L1104.45,250.00 L1104.64,250.50 L1104.84,251.00 L1105.03,251.50 L1105.22,252.00 L1105.41,252.50 L1105.60,253.00 L1105.78,253.50 L1105.96,254.00 L1106.14,254.50 L1106.31,255.00 L1106.47,255.50 L1106.63,256.00 L1106.79,256.50 L1106.95,257.00 L1107.12,257.50 L1107.28,258.00 L1107.44,258.50 L1107.60,259.00 L1107.76,259.50 L1107.91,260.00 L1108.05,260.50 L1108.19,261.00 L1108.31,261.50 L1108.43,262.00 L1108.53,262.50 L1108.62,263.00 L1108.70,263.50 L1108.77,264.00 L1108.83,264.50 L1108.90,265.00 L1108.96,265.50 L1109.02,266.00 L1109.08,266.50 L1109.14,267.00 L1109.20,267.50 L1109.25,268.00 L1109.30,268.50 L1109.35,269.00 L1109.40,269.50 L1109.44,270.00 L1109.48,270.50 L1109.52,271.00 L1109.55,271.50 L1109.58,272.00 L1109.61,272.50 L1109.64,273.00 L1109.66,273.50 L1109.68,274.00 L1109.69,274.50 L1109.70,275.00 L1109.71,275.50 L1109.71,276.00 L1109.72,276.50 L1109.73,277.00 L1109.73,277.50 L1109.74,278.00 L1109.74,278.50 L1109.74,279.00 L1109.75,279.50 L1109.75,280.00 L1109.75,280.50 L1109.76,281.00 L1109.76,281.50 L1109.76,282.00 L1109.77,282.50 L1109.77,283.00 L1109.77,283.50 L1109.78,284.00 L1109.78,284.50 L1109.79,285.00 L1109.79,285.50 L1109.80,286.00 L1109.81,286.50 L1109.81,287.00 L1109.82,287.50 L1109.83,288.00 L1109.84,288.50 L1109.85,289.00 L1109.86,289.50 L1109.87,290.00 L1109.88,290.50 L1109.89,291.00 L1109.91,291.50 L1109.92,292.00 L1109.93,292.50 L1109.95,293.00 L1109.96,293.50 L1109.98,294.00 L1110.00,294.50 L1110.02,295.00 L1110.04,295.50 L1110.06,296.00 L1110.08,296.50 L1110.10,297.00 L1110.13,297.50 L1110.16,298.00 L1110.20,298.50 L1110.24,299.00 L1110.29,299.50 L1110.35,300.00 L1110.41,300.50 L1110.48,301.00 L1110.55,301.50 L1110.62,302.00 L1110.70,302.50 L1110.78,303.00 L1110.87,303.50 L1110.95,304.00 L1111.04,304.50 L1111.13,305.00 L1111.22,305.50 L1111.32,306.00 L1111.41,306.50 L1111.51,307.00 L1111.60,307.50 L1111.70,308.00 L1111.80,308.50 L1111.90,309.00 L1112.01,309.50 L1112.12,310.00 L1112.24,310.50 L1112.36,311.00 L1112.49,311.50 L1112.62,312.00 L1112.75,312.50 L1112.89,313.00 L1113.03,313.50 L1113.17,314.00 L1113.32,314.50 L1113.47,315.00 L1113.62,315.50 L1113.78,316.00 L1113.93,316.50 L1114.09,317.00 L1114.26,317.50 L1114.42,318.00 L1114.59,318.50 L1114.76,319.00 L1114.93,319.50 L1115.10,320.00 L1115.28,320.50 L1115.46,321.00 L1115.65,321.50 L1115.84,322.00 L1116.05,322.50 L1116.25,323.00 L1116.46,323.50 L1116.68,324.00 L1116.90,324.50 L1117.12,325.00 L1117.35,325.50 L1117.58,326.00 L1117.81,326.50 L1118.04,327.00 L1118.28,327.50 L1118.51,328.00 L1118.74,328.50 L1118.98,329.00 L1119.21,329.50 L1119.44,330.00 L1119.67,330.50 L1119.90,331.00 L1120.13,331.50 L1120.35,332.00 L1120.58,332.50 L1120.81,333.00 L1121.04,333.50 L1121.27,334.00 L1121.50,334.50 L1121.73,335.00 L1121.96,335.50 L1122.19,336.00 L1122.43,336.50 L1122.67,337.00 L1122.91,337.50 L1123.15,338.00 L1123.40,338.50 L1123.65,339.00 L1123.90,339.50 L1124.16,340.00 L1124.44,340.50 L1124.74,341.00 L1125.04,341.50 L1125.35,342.00 L1125.67,342.50 L1125.99,343.00 L1126.31,343.50 L1126.63,344.00 L1126.94,344.50 L1127.25,345.00 L1127.54,345.50 L1127.81,346.00 L1128.07,346.50 L1128.31,347.00 L1128.52,347.50 L1128.71,348.00 L1128.87,348.50 L1129.01,349.00 L1129.15,349.50 L1129.28,350.00 L1129.41,350.50 L1129.54,351.00 L1129.67,351.50 L1129.79,352.00 L1129.90,352.50 L1130.01,353.00 L1130.11,353.50 L1130.20,354.00 L1130.28,354.50 L1130.35,355.00 L1130.40,355.50 L1130.45,356.00 L1130.48,356.50 L1130.50,357.00 L1130.50,357.50 L1130.49,358.00 L1130.47,358.50 L1130.44,359.00 L1130.39,359.50 L1130.34,360.00 L1130.28,360.50 L1130.22,361.00 L1130.14,361.50 L1130.06,362.00 L1129.97,362.50 L1129.87,363.00 L1129.77,363.50 L1129.67,364.00 L1129.56,364.50 L1129.45,365.00 L1129.32,365.50 L1129.15,366.00 L1128.93,366.50 L1128.68,367.00 L1128.39,367.50 L1128.09,368.00 L1127.76,368.50 L1127.44,369.00 L1127.11,369.50 L1126.79,370.00 L1126.48,370.50 L1126.15,371.00 L1125.81,371.50 L1125.46,372.00 L1125.11,372.50 L1124.75,373.00 L1124.39,373.50 L1124.03,374.00 L1123.69,374.50 L1123.35,375.00 L1123.04,375.50 L1122.73,376.00 L1122.43,376.50 L1122.13,377.00 L1121.84,377.50 L1121.55,378.00 L1121.28,378.50 L1121.01,379.00 L1120.74,379.50 L1120.49,380.00 L1120.25,380.50 L1120.02,381.00 L1119.79,381.50 L1119.57,382.00 L1119.36,382.50 L1119.15,383.00 L1118.95,383.50 L1118.76,384.00 L1118.57,384.50 L1118.38,385.00 L1118.20,385.50 L1118.02,386.00 L1117.85,386.50 L1117.69,387.00 L1117.53,387.50 L1117.37,388.00 L1117.21,388.50 L1117.06,389.00 L1116.91,389.50 L1116.76,390.00 L1116.62,390.50 L1116.47,391.00 L1116.33,391.50 L1116.19,392.00 L1116.05,392.50 L1115.91,393.00 L1115.78,393.50 L1115.65,394.00 L1115.52,394.50 L1115.39,395.00 L1115.27,395.50 L1115.14,396.00 L1115.01,396.50 L1114.89,397.00 L1114.76,397.50 L1114.63,398.00 L1114.50,398.50 L1114.37,399.00 L1114.24,399.50 L1114.10,400.00 L1113.96,400.50 L1113.82,401.00 L1113.67,401.50 L1113.53,402.00 L1113.38,402.50 L1113.23,403.00 L1113.08,403.50 L1112.93,404.00 L1112.78,404.50 L1112.64,405.00 L1112.49,405.50 L1112.34,406.00 L1112.20,406.50 L1112.06,407.00 L1111.91,407.50 L1111.77,408.00 L1111.62,408.50 L1111.47,409.00 L1111.33,409.50 L1111.18,410.00 L1111.04,410.50 L1110.91,411.00 L1110.77,411.50 L1110.64,412.00 L1110.52,412.50 L1110.40,413.00 L1110.29,413.50 L1110.18,414.00 L1110.08,414.50 L1109.98,415.00 L1109.88,415.50 L1109.79,416.00 L1109.69,416.50 L1109.60,417.00 L1109.51,417.50 L1109.41,418.00 L1109.32,418.50 L1109.22,419.00 L1109.12,419.50 L1109.02,420.00 L1108.91,420.50 L1108.80,421.00 L1108.70,421.50 L1108.59,422.00 L1108.48,422.50 L1108.37,423.00 L1108.26,423.50 L1108.15,424.00 L1108.04,424.50 L1107.93,425.00 L1107.83,425.50 L1107.72,426.00 L1107.62,426.50 L1107.51,427.00 L1107.41,427.50 L1107.31,428.00 L1107.20,428.50 L1107.10,429.00 L1107.00,429.50 L1106.90,430.00 L1106.80,430.50 L1106.70,431.00 L1106.61,431.50 L1106.51,432.00 L1106.42,432.50 L1106.33,433.00 L1106.24,433.50 L1106.15,434.00 L1106.07,434.50 L1105.99,435.00 L1105.91,435.50 L1105.83,436.00 L1105.74,436.50 L1105.66,437.00 L1105.58,437.50 L1105.49,438.00 L1105.41,438.50 L1105.32,439.00 L1105.23,439.50 L1105.13,440.00 L1105.04,440.50 L1104.94,441.00 L1104.84,441.50 L1104.74,442.00 L1104.64,442.50 L1104.54,443.00 L1104.44,443.50 L1104.34,444.00 L1104.23,444.50 L1104.13,445.00 L1104.02,445.50 L1103.91,446.00 L1103.81,446.50 L1103.70,447.00 L1103.59,447.50 L1103.48,448.00 L1103.37,448.50 L1103.26,449.00 L1103.15,449.50 L1103.04,450.00 L1102.92,450.50 L1102.80,451.00 L1102.68,451.50 L1102.55,452.00 L1102.42,452.50 L1102.29,453.00 L1102.15,453.50 L1102.01,454.00 L1101.87,454.50 L1101.72,455.00 L1101.57,455.50 L1101.42,456.00 L1101.27,456.50 L1101.12,457.00 L1100.96,457.50 L1100.81,458.00 L1100.66,458.50 L1100.51,459.00 L1100.36,459.50 L1100.20,460.00 L1100.04,460.50 L1099.89,461.00 L1099.73,461.50 L1099.57,462.00 L1099.41,462.50 L1099.26,463.00 L1099.10,463.50 L1098.95,464.00 L1098.80,464.50 L1098.66,465.00 L1098.52,465.50 L1098.38,466.00 L1098.24,466.50 L1098.10,467.00 L1097.97,467.50 L1097.84,468.00 L1097.71,468.50 L1097.58,469.00 L1097.45,469.50 L1097.32,470.00 L1097.20,470.50 L1097.07,471.00 L1096.95,471.50 L1096.83,472.00 L1096.71,472.50 L1096.59,473.00 L1096.47,473.50 L1096.35,474.00 L1096.23,474.50 L1096.12,475.00 L1096.00,475.50 L1095.89,476.00 L1095.78,476.50 L1095.67,477.00 L1095.55,477.50 L1095.44,478.00 L1095.33,478.50 L1095.21,479.00 L1095.08,479.50 L1094.95,480.00 L1094.82,480.50 L1094.69,481.00 L1094.58,481.50 L1094.47,482.00 L1094.45,482.50 L1094.45,483.00 L1094.45,483.50 L1094.45,484.00 L1094.45,484.40 L1093.95,484.40 L1093.95,484.00 L1093.95,483.50 L1093.95,483.00 L1093.95,482.50 L1093.93,482.00 L1093.82,481.50 L1093.71,481.00 L1093.58,480.50 L1093.45,480.00 L1093.32,479.50 L1093.19,479.00 L1093.07,478.50 L1092.96,478.00 L1092.85,477.50 L1092.73,477.00 L1092.62,476.50 L1092.51,476.00 L1092.40,475.50 L1092.28,475.00 L1092.17,474.50 L1092.05,474.00 L1091.93,473.50 L1091.81,473.00 L1091.69,472.50 L1091.57,472.00 L1091.45,471.50 L1091.33,471.00 L1091.20,470.50 L1091.08,470.00 L1090.95,469.50 L1090.82,469.00 L1090.69,468.50 L1090.56,468.00 L1090.43,467.50 L1090.30,467.00 L1090.16,466.50 L1090.02,466.00 L1089.88,465.50 L1089.74,465.00 L1089.60,464.50 L1089.45,464.00 L1089.30,463.50 L1089.14,463.00 L1088.99,462.50 L1088.83,462.00 L1088.67,461.50 L1088.51,461.00 L1088.36,460.50 L1088.20,460.00 L1088.04,459.50 L1087.89,459.00 L1087.74,458.50 L1087.59,458.00 L1087.44,457.50 L1087.28,457.00 L1087.13,456.50 L1086.98,456.00 L1086.83,455.50 L1086.68,455.00 L1086.53,454.50 L1086.39,454.00 L1086.25,453.50 L1086.11,453.00 L1085.98,452.50 L1085.85,452.00 L1085.72,451.50 L1085.60,451.00 L1085.48,450.50 L1085.36,450.00 L1085.25,449.50 L1085.14,449.00 L1085.03,448.50 L1084.92,448.00 L1084.81,447.50 L1084.70,447.00 L1084.59,446.50 L1084.49,446.00 L1084.38,445.50 L1084.27,445.00 L1084.17,444.50 L1084.06,444.00 L1083.96,443.50 L1083.86,443.00 L1083.76,442.50 L1083.66,442.00 L1083.56,441.50 L1083.46,441.00 L1083.36,440.50 L1083.27,440.00 L1083.17,439.50 L1083.08,439.00 L1082.99,438.50 L1082.91,438.00 L1082.82,437.50 L1082.74,437.00 L1082.66,436.50 L1082.57,436.00 L1082.49,435.50 L1082.41,435.00 L1082.33,434.50 L1082.25,434.00 L1082.16,433.50 L1082.07,433.00 L1081.98,432.50 L1081.89,432.00 L1081.79,431.50 L1081.70,431.00 L1081.60,430.50 L1081.50,430.00 L1081.40,429.50 L1081.30,429.00 L1081.20,428.50 L1081.09,428.00 L1080.99,427.50 L1080.89,427.00 L1080.78,426.50 L1080.68,426.00 L1080.57,425.50 L1080.47,425.00 L1080.36,424.50 L1080.25,424.00 L1080.14,423.50 L1080.03,423.00 L1079.92,422.50 L1079.81,422.00 L1079.70,421.50 L1079.60,421.00 L1079.49,420.50 L1079.38,420.00 L1079.28,419.50 L1079.18,419.00 L1079.08,418.50 L1078.99,418.00 L1078.89,417.50 L1078.80,417.00 L1078.71,416.50 L1078.61,416.00 L1078.52,415.50 L1078.42,415.00 L1078.32,414.50 L1078.22,414.00 L1078.11,413.50 L1078.00,413.00 L1077.88,412.50 L1077.76,412.00 L1077.63,411.50 L1077.49,411.00 L1077.36,410.50 L1077.22,410.00 L1077.07,409.50 L1076.93,409.00 L1076.78,408.50 L1076.63,408.00 L1076.49,407.50 L1076.34,407.00 L1076.20,406.50 L1076.06,406.00 L1075.91,405.50 L1075.76,405.00 L1075.62,404.50 L1075.47,404.00 L1075.32,403.50 L1075.17,403.00 L1075.02,402.50 L1074.87,402.00 L1074.73,401.50 L1074.58,401.00 L1074.44,400.50 L1074.30,400.00 L1074.16,399.50 L1074.03,399.00 L1073.90,398.50 L1073.77,398.00 L1073.64,397.50 L1073.51,397.00 L1073.39,396.50 L1073.26,396.00 L1073.13,395.50 L1073.01,395.00 L1072.88,394.50 L1072.75,394.00 L1072.62,393.50 L1072.49,393.00 L1072.35,392.50 L1072.21,392.00 L1072.07,391.50 L1071.93,391.00 L1071.78,390.50 L1071.64,390.00 L1071.49,389.50 L1071.34,389.00 L1071.19,388.50 L1071.03,388.00 L1070.87,387.50 L1070.71,387.00 L1070.55,386.50 L1070.38,386.00 L1070.20,385.50 L1070.02,385.00 L1069.83,384.50 L1069.64,384.00 L1069.45,383.50 L1069.25,383.00 L1069.04,382.50 L1068.83,382.00 L1068.61,381.50 L1068.38,381.00 L1068.15,380.50 L1067.91,380.00 L1067.66,379.50 L1067.39,379.00 L1067.12,378.50 L1066.85,378.00 L1066.56,377.50 L1066.27,377.00 L1065.97,376.50 L1065.67,376.00 L1065.36,375.50 L1065.05,375.00 L1064.71,374.50 L1064.37,374.00 L1064.01,373.50 L1063.65,373.00 L1063.29,372.50 L1062.94,372.00 L1062.59,371.50 L1062.25,371.00 L1061.92,370.50 L1061.61,370.00 L1061.29,369.50 L1060.96,369.00 L1060.64,368.50 L1060.31,368.00 L1060.01,367.50 L1059.72,367.00 L1059.47,366.50 L1059.25,366.00 L1059.08,365.50 L1058.95,365.00 L1058.84,364.50 L1058.73,364.00 L1058.63,363.50 L1058.53,363.00 L1058.43,362.50 L1058.34,362.00 L1058.26,361.50 L1058.18,361.00 L1058.12,360.50 L1058.06,360.00 L1058.01,359.50 L1057.96,359.00 L1057.93,358.50 L1057.91,358.00 L1057.90,357.50 L1057.90,357.00 L1057.92,356.50 L1057.95,356.00 L1058.00,355.50 L1058.05,355.00 L1058.12,354.50 L1058.20,354.00 L1058.29,353.50 L1058.39,353.00 L1058.50,352.50 L1058.61,352.00 L1058.73,351.50 L1058.86,351.00 L1058.99,350.50 L1059.12,350.00 L1059.25,349.50 L1059.39,349.00 L1059.53,348.50 L1059.69,348.00 L1059.88,347.50 L1060.09,347.00 L1060.33,346.50 L1060.59,346.00 L1060.86,345.50 L1061.15,345.00 L1061.46,344.50 L1061.77,344.00 L1062.09,343.50 L1062.41,343.00 L1062.73,342.50 L1063.05,342.00 L1063.36,341.50 L1063.66,341.00 L1063.96,340.50 L1064.24,340.00 L1064.50,339.50 L1064.75,339.00 L1065.00,338.50 L1065.25,338.00 L1065.49,337.50 L1065.73,337.00 L1065.97,336.50 L1066.21,336.00 L1066.44,335.50 L1066.67,335.00 L1066.90,334.50 L1067.13,334.00 L1067.36,333.50 L1067.59,333.00 L1067.82,332.50 L1068.05,332.00 L1068.27,331.50 L1068.50,331.00 L1068.73,330.50 L1068.96,330.00 L1069.19,329.50 L1069.42,329.00 L1069.66,328.50 L1069.89,328.00 L1070.12,327.50 L1070.36,327.00 L1070.59,326.50 L1070.82,326.00 L1071.05,325.50 L1071.28,325.00 L1071.50,324.50 L1071.72,324.00 L1071.94,323.50 L1072.15,323.00 L1072.35,322.50 L1072.56,322.00 L1072.75,321.50 L1072.94,321.00 L1073.12,320.50 L1073.30,320.00 L1073.47,319.50 L1073.64,319.00 L1073.81,318.50 L1073.98,318.00 L1074.14,317.50 L1074.31,317.00 L1074.47,316.50 L1074.62,316.00 L1074.78,315.50 L1074.93,315.00 L1075.08,314.50 L1075.23,314.00 L1075.37,313.50 L1075.51,313.00 L1075.65,312.50 L1075.78,312.00 L1075.91,311.50 L1076.04,311.00 L1076.16,310.50 L1076.28,310.00 L1076.39,309.50 L1076.50,309.00 L1076.60,308.50 L1076.70,308.00 L1076.80,307.50 L1076.89,307.00 L1076.99,306.50 L1077.08,306.00 L1077.18,305.50 L1077.27,305.00 L1077.36,304.50 L1077.45,304.00 L1077.53,303.50 L1077.62,303.00 L1077.70,302.50 L1077.78,302.00 L1077.85,301.50 L1077.92,301.00 L1077.99,300.50 L1078.05,300.00 L1078.11,299.50 L1078.16,299.00 L1078.20,298.50 L1078.24,298.00 L1078.27,297.50 L1078.30,297.00 L1078.32,296.50 L1078.34,296.00 L1078.36,295.50 L1078.38,295.00 L1078.40,294.50 L1078.42,294.00 L1078.44,293.50 L1078.45,293.00 L1078.47,292.50 L1078.48,292.00 L1078.49,291.50 L1078.51,291.00 L1078.52,290.50 L1078.53,290.00 L1078.54,289.50 L1078.55,289.00 L1078.56,288.50 L1078.57,288.00 L1078.58,287.50 L1078.59,287.00 L1078.59,286.50 L1078.60,286.00 L1078.61,285.50 L1078.61,285.00 L1078.62,284.50 L1078.62,284.00 L1078.63,283.50 L1078.63,283.00 L1078.63,282.50 L1078.64,282.00 L1078.64,281.50 L1078.64,281.00 L1078.65,280.50 L1078.65,280.00 L1078.65,279.50 L1078.66,279.00 L1078.66,278.50 L1078.66,278.00 L1078.67,277.50 L1078.67,277.00 L1078.68,276.50 L1078.69,276.00 L1078.69,275.50 L1078.70,275.00 L1078.71,274.50 L1078.72,274.00 L1078.74,273.50 L1078.76,273.00 L1078.79,272.50 L1078.82,272.00 L1078.85,271.50 L1078.88,271.00 L1078.92,270.50 L1078.96,270.00 L1079.00,269.50 L1079.05,269.00 L1079.10,268.50 L1079.15,268.00 L1079.20,267.50 L1079.26,267.00 L1079.32,266.50 L1079.38,266.00 L1079.44,265.50 L1079.50,265.00 L1079.57,264.50 L1079.63,264.00 L1079.70,263.50 L1079.78,263.00 L1079.87,262.50 L1079.97,262.00 L1080.09,261.50 L1080.21,261.00 L1080.35,260.50 L1080.49,260.00 L1080.64,259.50 L1080.80,259.00 L1080.96,258.50 L1081.12,258.00 L1081.28,257.50 L1081.45,257.00 L1081.61,256.50 L1081.77,256.00 L1081.93,255.50 L1082.09,255.00 L1082.26,254.50 L1082.44,254.00 L1082.62,253.50 L1082.80,253.00 L1082.99,252.50 L1083.18,252.00 L1083.37,251.50 L1083.56,251.00 L1083.76,250.50 L1083.95,250.00 L1084.16,249.50 L1084.37,249.00 L1084.58,248.50 L1084.79,248.00 L1085.00,247.50 L1085.21,247.00 L1085.41,246.50 L1085.62,246.00 L1085.82,245.50 L1086.02,245.00 L1086.22,244.50 L1086.43,244.00 L1086.63,243.50 L1086.83,243.00 L1087.02,242.50 L1087.22,242.00 L1087.41,241.50 L1087.59,241.00 L1087.77,240.50 L1087.95,240.00 L1088.13,239.50 L1088.30,239.00 L1088.47,238.50 L1088.64,238.00 L1088.80,237.50 L1088.96,237.00 L1089.12,236.50 L1089.28,236.00 L1089.43,235.50 L1089.58,235.00 L1089.72,234.50 L1089.86,234.00 L1090.00,233.50 L1090.14,233.00 L1090.27,232.50 L1090.41,232.00 L1090.55,231.50 L1090.69,231.00 L1090.83,230.50 L1090.97,230.00 L1091.12,229.50 L1091.27,229.00 L1091.41,228.50 L1091.56,228.00 L1091.70,227.50 L1091.84,227.00 L1091.98,226.50 L1092.11,226.00 L1092.24,225.50 L1092.37,225.00 L1092.50,224.50 L1092.63,224.00 L1092.75,223.50 L1092.88,223.00 L1092.99,222.50 L1093.10,222.00 L1093.20,221.50 L1093.29,221.00 L1093.37,220.50 L1093.46,220.00 L1093.53,219.50 L1093.60,219.00 L1093.65,218.50 L1093.70,218.00 L1093.74,217.50 L1093.77,217.00 L1093.81,216.50 L1093.84,216.00 L1093.87,215.50 L1093.90,215.00 L1093.92,214.50 L1093.95,214.00 L1093.95,213.50 L1093.95,213.00 L1093.95,212.50 L1093.95,212.00 L1093.95,211.50 L1093.95,211.00 L1093.95,210.50 L1093.95,210.00 L1093.95,209.50 L1093.95,209.00 L1093.95,208.50 L1093.95,208.00 L1093.95,207.50 L1093.95,207.00 L1093.95,206.50 L1093.95,206.00 L1093.95,205.50 L1093.95,205.00 L1093.95,204.50 L1093.95,204.00 L1093.95,203.50 L1093.95,203.00 L1093.95,202.50 L1093.95,202.00 L1093.95,201.50 L1093.95,201.00 L1093.95,200.50 L1093.95,200.00 L1093.95,199.50 L1093.95,199.00 L1093.95,198.50Z" fill="#ffff00" stroke="#000" stroke-width="4.2" stroke-linejoin="round"/>
<path d="M1078.80,308.00H1109.60" stroke="#000" stroke-width="1.6" stroke-dasharray="1.5,2.9"/>
<path d="M1060.00,357.40H1128.40" stroke="#000" stroke-width="2" stroke-dasharray="3.3,3.9"/>
<path d="M1074.17,391.50H1114.23" stroke="#000" stroke-width="1.6" stroke-dasharray="1.5,2.9"/>
<path d="M1211.85,336.70 L1211.85,337.20 L1211.85,337.70 L1211.85,338.20 L1211.85,338.70 L1211.85,339.20 L1211.88,339.70 L1211.92,340.20 L1211.98,340.70 L1212.06,341.20 L1212.17,341.70 L1212.30,342.20 L1212.45,342.70 L1212.61,343.20 L1212.77,343.70 L1212.95,344.20 L1213.12,344.70 L1213.30,345.20 L1213.48,345.70 L1213.68,346.20 L1213.90,346.70 L1214.13,347.20 L1214.37,347.70 L1214.62,348.20 L1214.89,348.70 L1215.17,349.20 L1215.45,349.70 L1215.74,350.20 L1216.04,350.70 L1216.37,351.20 L1216.72,351.70 L1217.08,352.20 L1217.46,352.70 L1217.85,353.20 L1218.25,353.70 L1218.65,354.20 L1219.05,354.70 L1219.44,355.20 L1219.84,355.70 L1220.24,356.20 L1220.66,356.70 L1221.08,357.20 L1221.50,357.70 L1221.92,358.20 L1222.34,358.70 L1222.76,359.20 L1223.16,359.70 L1223.55,360.20 L1223.93,360.70 L1224.31,361.20 L1224.69,361.70 L1225.06,362.20 L1225.44,362.70 L1225.80,363.20 L1226.14,363.70 L1226.47,364.20 L1226.77,364.70 L1227.05,365.20 L1227.30,365.70 L1227.53,366.20 L1227.76,366.70 L1227.97,367.20 L1228.18,367.70 L1228.37,368.20 L1228.55,368.70 L1228.72,369.20 L1228.87,369.70 L1229.00,370.20 L1229.12,370.70 L1229.24,371.20 L1229.35,371.70 L1229.46,372.20 L1229.56,372.70 L1229.66,373.20 L1229.74,373.70 L1229.81,374.20 L1229.86,374.70 L1229.89,375.20 L1229.90,375.70 L1229.88,376.20 L1229.85,376.70 L1229.79,377.20 L1229.72,377.70 L1229.64,378.20 L1229.55,378.70 L1229.44,379.20 L1229.33,379.70 L1229.22,380.20 L1229.10,380.70 L1228.95,381.20 L1228.76,381.70 L1228.53,382.20 L1228.27,382.70 L1227.99,383.20 L1227.71,383.70 L1227.43,384.20 L1227.17,384.70 L1226.93,385.20 L1226.73,385.70 L1226.56,386.20 L1226.38,386.70 L1226.21,387.20 L1226.06,387.70 L1225.95,388.20 L1225.90,388.70 L1225.95,389.20 L1226.14,389.70 L1226.44,390.20 L1226.83,390.70 L1227.29,391.20 L1227.79,391.70 L1228.30,392.20 L1228.81,392.70 L1229.30,393.20 L1229.85,393.70 L1230.46,394.20 L1231.11,394.70 L1231.79,395.20 L1232.48,395.70 L1233.17,396.20 L1233.84,396.70 L1234.49,397.20 L1235.16,397.70 L1235.85,398.20 L1236.54,398.70 L1237.22,399.20 L1237.89,399.70 L1238.53,400.20 L1239.14,400.70 L1239.70,401.20 L1240.23,401.70 L1240.76,402.20 L1241.28,402.70 L1241.78,403.20 L1242.28,403.70 L1242.76,404.20 L1243.23,404.70 L1243.68,405.20 L1244.10,405.70 L1244.51,406.20 L1244.90,406.70 L1245.26,407.20 L1245.59,407.70 L1245.90,408.20 L1246.20,408.70 L1246.51,409.20 L1246.82,409.70 L1247.10,410.20 L1247.36,410.70 L1247.57,411.20 L1247.72,411.70 L1247.79,412.20 L1247.79,412.70 L1247.76,413.20 L1247.70,413.70 L1247.61,414.20 L1247.50,414.70 L1247.37,415.20 L1247.21,415.70 L1247.04,416.20 L1246.86,416.70 L1246.66,417.20 L1246.45,417.70 L1246.23,418.20 L1246.01,418.70 L1245.78,419.20 L1245.55,419.70 L1245.30,420.20 L1245.00,420.70 L1244.65,421.20 L1244.26,421.70 L1243.83,422.20 L1243.37,422.70 L1242.88,423.20 L1242.36,423.70 L1241.82,424.20 L1241.26,424.70 L1240.69,425.20 L1240.10,425.70 L1239.52,426.20 L1238.93,426.70 L1238.34,427.20 L1237.76,427.70 L1237.19,428.20 L1236.63,428.70 L1236.09,429.20 L1235.56,429.70 L1235.02,430.20 L1234.48,430.70 L1233.93,431.20 L1233.38,431.70 L1232.82,432.20 L1232.26,432.70 L1231.69,433.20 L1231.13,433.70 L1230.56,434.20 L1229.99,434.70 L1229.41,435.20 L1228.83,435.70 L1228.26,436.20 L1227.68,436.70 L1227.10,437.20 L1226.51,437.70 L1225.93,438.20 L1225.35,438.70 L1224.75,439.20 L1224.13,439.70 L1223.51,440.20 L1222.89,440.70 L1222.27,441.20 L1221.65,441.70 L1221.04,442.20 L1220.45,442.70 L1219.87,443.20 L1219.32,443.70 L1218.79,444.20 L1218.26,444.70 L1217.74,445.20 L1217.22,445.70 L1216.71,446.20 L1216.23,446.70 L1215.78,447.20 L1215.37,447.70 L1215.00,448.20 L1214.68,448.70 L1214.38,449.20 L1214.09,449.70 L1213.83,450.20 L1213.58,450.70 L1213.36,451.20 L1213.16,451.70 L1212.99,452.20 L1212.84,452.70 L1212.71,453.20 L1212.58,453.70 L1212.46,454.20 L1212.35,454.70 L1212.25,455.20 L1212.17,455.70 L1212.09,456.20 L1212.03,456.70 L1211.98,457.20 L1211.94,457.70 L1211.89,458.20 L1211.85,458.70 L1211.85,459.20 L1211.85,459.70 L1211.85,460.20 L1211.85,460.70 L1211.85,461.20 L1211.85,461.70 L1211.85,462.20 L1211.85,462.70 L1211.85,463.20 L1211.85,463.70 L1211.85,464.20 L1211.85,464.70 L1211.85,465.20 L1211.85,465.70 L1211.85,466.20 L1211.85,466.70 L1211.85,466.90 L1211.35,466.90 L1211.35,466.70 L1211.35,466.20 L1211.35,465.70 L1211.35,465.20 L1211.35,464.70 L1211.35,464.20 L1211.35,463.70 L1211.35,463.20 L1211.35,462.70 L1211.35,462.20 L1211.35,461.70 L1211.35,461.20 L1211.35,460.70 L1211.35,460.20 L1211.35,459.70 L1211.35,459.20 L1211.35,458.70 L1211.31,458.20 L1211.26,457.70 L1211.22,457.20 L1211.17,456.70 L1211.11,456.20 L1211.03,455.70 L1210.95,455.20 L1210.85,454.70 L1210.74,454.20 L1210.62,453.70 L1210.49,453.20 L1210.36,452.70 L1210.21,452.20 L1210.04,451.70 L1209.84,451.20 L1209.62,450.70 L1209.37,450.20 L1209.11,449.70 L1208.82,449.20 L1208.52,448.70 L1208.20,448.20 L1207.83,447.70 L1207.42,447.20 L1206.97,446.70 L1206.49,446.20 L1205.98,445.70 L1205.46,445.20 L1204.94,444.70 L1204.41,444.20 L1203.88,443.70 L1203.33,443.20 L1202.75,442.70 L1202.16,442.20 L1201.55,441.70 L1200.93,441.20 L1200.31,440.70 L1199.69,440.20 L1199.07,439.70 L1198.45,439.20 L1197.85,438.70 L1197.27,438.20 L1196.69,437.70 L1196.10,437.20 L1195.52,436.70 L1194.94,436.20 L1194.37,435.70 L1193.79,435.20 L1193.21,434.70 L1192.64,434.20 L1192.07,433.70 L1191.51,433.20 L1190.94,432.70 L1190.38,432.20 L1189.82,431.70 L1189.27,431.20 L1188.72,430.70 L1188.18,430.20 L1187.64,429.70 L1187.11,429.20 L1186.57,428.70 L1186.01,428.20 L1185.44,427.70 L1184.86,427.20 L1184.27,426.70 L1183.68,426.20 L1183.10,425.70 L1182.51,425.20 L1181.94,424.70 L1181.38,424.20 L1180.84,423.70 L1180.32,423.20 L1179.83,422.70 L1179.37,422.20 L1178.94,421.70 L1178.55,421.20 L1178.20,420.70 L1177.90,420.20 L1177.65,419.70 L1177.42,419.20 L1177.19,418.70 L1176.97,418.20 L1176.75,417.70 L1176.54,417.20 L1176.34,416.70 L1176.16,416.20 L1175.99,415.70 L1175.83,415.20 L1175.70,414.70 L1175.59,414.20 L1175.50,413.70 L1175.44,413.20 L1175.41,412.70 L1175.41,412.20 L1175.48,411.70 L1175.63,411.20 L1175.84,410.70 L1176.10,410.20 L1176.38,409.70 L1176.69,409.20 L1177.00,408.70 L1177.30,408.20 L1177.61,407.70 L1177.94,407.20 L1178.30,406.70 L1178.69,406.20 L1179.10,405.70 L1179.52,405.20 L1179.97,404.70 L1180.44,404.20 L1180.92,403.70 L1181.42,403.20 L1181.92,402.70 L1182.44,402.20 L1182.97,401.70 L1183.50,401.20 L1184.06,400.70 L1184.67,400.20 L1185.31,399.70 L1185.98,399.20 L1186.66,398.70 L1187.35,398.20 L1188.04,397.70 L1188.71,397.20 L1189.36,396.70 L1190.03,396.20 L1190.72,395.70 L1191.41,395.20 L1192.09,394.70 L1192.74,394.20 L1193.35,393.70 L1193.90,393.20 L1194.39,392.70 L1194.90,392.20 L1195.41,391.70 L1195.91,391.20 L1196.37,390.70 L1196.76,390.20 L1197.06,389.70 L1197.25,389.20 L1197.30,388.70 L1197.25,388.20 L1197.14,387.70 L1196.99,387.20 L1196.82,386.70 L1196.64,386.20 L1196.47,385.70 L1196.27,385.20 L1196.03,384.70 L1195.77,384.20 L1195.49,383.70 L1195.21,383.20 L1194.93,382.70 L1194.67,382.20 L1194.44,381.70 L1194.25,381.20 L1194.10,380.70 L1193.98,380.20 L1193.87,379.70 L1193.76,379.20 L1193.65,378.70 L1193.56,378.20 L1193.48,377.70 L1193.41,377.20 L1193.35,376.70 L1193.32,376.20 L1193.30,375.70 L1193.31,375.20 L1193.34,374.70 L1193.39,374.20 L1193.46,373.70 L1193.54,373.20 L1193.64,372.70 L1193.74,372.20 L1193.85,371.70 L1193.96,371.20 L1194.08,370.70 L1194.20,370.20 L1194.33,369.70 L1194.48,369.20 L1194.65,368.70 L1194.83,368.20 L1195.02,367.70 L1195.23,367.20 L1195.44,366.70 L1195.67,366.20 L1195.90,365.70 L1196.15,365.20 L1196.43,364.70 L1196.73,364.20 L1197.06,363.70 L1197.40,363.20 L1197.76,362.70 L1198.14,362.20 L1198.51,361.70 L1198.89,361.20 L1199.27,360.70 L1199.65,360.20 L1200.04,359.70 L1200.44,359.20 L1200.86,358.70 L1201.28,358.20 L1201.70,357.70 L1202.12,357.20 L1202.54,356.70 L1202.96,356.20 L1203.36,355.70 L1203.76,355.20 L1204.15,354.70 L1204.55,354.20 L1204.95,353.70 L1205.35,353.20 L1205.74,352.70 L1206.12,352.20 L1206.48,351.70 L1206.83,351.20 L1207.16,350.70 L1207.46,350.20 L1207.75,349.70 L1208.03,349.20 L1208.31,348.70 L1208.58,348.20 L1208.83,347.70 L1209.07,347.20 L1209.30,346.70 L1209.52,346.20 L1209.72,345.70 L1209.90,345.20 L1210.08,344.70 L1210.25,344.20 L1210.43,343.70 L1210.59,343.20 L1210.75,342.70 L1210.90,342.20 L1211.03,341.70 L1211.14,341.20 L1211.22,340.70 L1211.28,340.20 L1211.32,339.70 L1211.35,339.20 L1211.35,338.70 L1211.35,338.20 L1211.35,337.70 L1211.35,337.20 L1211.35,336.70Z" fill="#ff0000" stroke="#000" stroke-width="4.2" stroke-linejoin="round"/>
<path d="M1196.22,380.80H1226.98" stroke="#000" stroke-width="1.6" stroke-dasharray="1.5,2.9"/>
<path d="M1177.58,411.70H1245.62" stroke="#000" stroke-width="2" stroke-dasharray="3.3,3.9"/>
<path d="M1183.26,424.00H1239.94" stroke="#000" stroke-width="1.6" stroke-dasharray="1.5,2.9"/>
<path d="M1329.25,196.00 L1329.25,196.50 L1329.25,197.00 L1329.25,197.50 L1329.25,198.00 L1329.25,198.50 L1329.25,199.00 L1329.25,199.50 L1329.25,200.00 L1329.25,200.50 L1329.25,201.00 L1329.25,201.50 L1329.25,202.00 L1329.25,202.50 L1329.25,203.00 L1329.27,203.50 L1329.29,204.00 L1329.32,204.50 L1329.36,205.00 L1329.40,205.50 L1329.44,206.00 L1329.49,206.50 L1329.54,207.00 L1329.60,207.50 L1329.66,208.00 L1329.72,208.50 L1329.78,209.00 L1329.84,209.50 L1329.90,210.00 L1329.96,210.50 L1330.04,211.00 L1330.11,211.50 L1330.19,212.00 L1330.28,212.50 L1330.37,213.00 L1330.46,213.50 L1330.56,214.00 L1330.66,214.50 L1330.76,215.00 L1330.87,215.50 L1330.98,216.00 L1331.09,216.50 L1331.20,217.00 L1331.31,217.50 L1331.43,218.00 L1331.55,218.50 L1331.67,219.00 L1331.80,219.50 L1331.93,220.00 L1332.06,220.50 L1332.20,221.00 L1332.35,221.50 L1332.49,222.00 L1332.64,222.50 L1332.80,223.00 L1332.95,223.50 L1333.11,224.00 L1333.27,224.50 L1333.44,225.00 L1333.60,225.50 L1333.77,226.00 L1333.93,226.50 L1334.10,227.00 L1334.28,227.50 L1334.47,228.00 L1334.66,228.50 L1334.86,229.00 L1335.06,229.50 L1335.27,230.00 L1335.48,230.50 L1335.69,231.00 L1335.89,231.50 L1336.10,232.00 L1336.30,232.50 L1336.49,233.00 L1336.68,233.50 L1336.86,234.00 L1337.04,234.50 L1337.20,235.00 L1337.36,235.50 L1337.51,236.00 L1337.67,236.50 L1337.82,237.00 L1337.97,237.50 L1338.12,238.00 L1338.27,238.50 L1338.41,239.00 L1338.54,239.50 L1338.68,240.00 L1338.80,240.50 L1338.93,241.00 L1339.04,241.50 L1339.15,242.00 L1339.25,242.50 L1339.35,243.00 L1339.43,243.50 L1339.52,244.00 L1339.61,244.50 L1339.70,245.00 L1339.79,245.50 L1339.87,246.00 L1339.95,246.50 L1340.03,247.00 L1340.10,247.50 L1340.17,248.00 L1340.23,248.50 L1340.29,249.00 L1340.33,249.50 L1340.36,250.00 L1340.39,250.50 L1340.40,251.00 L1340.40,251.50 L1340.39,252.00 L1340.38,252.50 L1340.36,253.00 L1340.33,253.50 L1340.30,254.00 L1340.26,254.50 L1340.22,255.00 L1340.17,255.50 L1340.12,256.00 L1340.07,256.50 L1340.01,257.00 L1339.95,257.50 L1339.88,258.00 L1339.81,258.50 L1339.74,259.00 L1339.67,259.50 L1339.60,260.00 L1339.51,260.50 L1339.41,261.00 L1339.28,261.50 L1339.13,262.00 L1338.97,262.50 L1338.79,263.00 L1338.60,263.50 L1338.40,264.00 L1338.19,264.50 L1337.97,265.00 L1337.75,265.50 L1337.52,266.00 L1337.30,266.50 L1337.07,267.00 L1336.85,267.50 L1336.63,268.00 L1336.41,268.50 L1336.19,269.00 L1335.96,269.50 L1335.71,270.00 L1335.46,270.50 L1335.20,271.00 L1334.94,271.50 L1334.68,272.00 L1334.41,272.50 L1334.15,273.00 L1333.89,273.50 L1333.63,274.00 L1333.38,274.50 L1333.14,275.00 L1332.91,275.50 L1332.69,276.00 L1332.48,276.50 L1332.28,277.00 L1332.07,277.50 L1331.85,278.00 L1331.63,278.50 L1331.41,279.00 L1331.20,279.50 L1331.00,280.00 L1330.81,280.50 L1330.65,281.00 L1330.51,281.50 L1330.40,282.00 L1330.33,282.50 L1330.30,283.00 L1330.31,283.50 L1330.36,284.00 L1330.43,284.50 L1330.53,285.00 L1330.66,285.50 L1330.80,286.00 L1330.97,286.50 L1331.15,287.00 L1331.34,287.50 L1331.54,288.00 L1331.74,288.50 L1331.95,289.00 L1332.15,289.50 L1332.35,290.00 L1332.55,290.50 L1332.73,291.00 L1332.90,291.50 L1333.06,292.00 L1333.21,292.50 L1333.36,293.00 L1333.51,293.50 L1333.65,294.00 L1333.80,294.50 L1333.95,295.00 L1334.10,295.50 L1334.25,296.00 L1334.41,296.50 L1334.58,297.00 L1334.75,297.50 L1334.94,298.00 L1335.13,298.50 L1335.34,299.00 L1335.56,299.50 L1335.80,300.00 L1336.07,300.50 L1336.38,301.00 L1336.72,301.50 L1337.10,302.00 L1337.51,302.50 L1337.95,303.00 L1338.42,303.50 L1338.91,304.00 L1339.41,304.50 L1339.93,305.00 L1340.47,305.50 L1341.02,306.00 L1341.57,306.50 L1342.12,307.00 L1342.68,307.50 L1343.24,308.00 L1343.78,308.50 L1344.32,309.00 L1344.85,309.50 L1345.37,310.00 L1345.86,310.50 L1346.34,311.00 L1346.79,311.50 L1347.23,312.00 L1347.67,312.50 L1348.11,313.00 L1348.54,313.50 L1348.97,314.00 L1349.40,314.50 L1349.82,315.00 L1350.25,315.50 L1350.66,316.00 L1351.08,316.50 L1351.49,317.00 L1351.90,317.50 L1352.31,318.00 L1352.71,318.50 L1353.11,319.00 L1353.51,319.50 L1353.90,320.00 L1354.29,320.50 L1354.67,321.00 L1355.05,321.50 L1355.44,322.00 L1355.84,322.50 L1356.25,323.00 L1356.66,323.50 L1357.08,324.00 L1357.49,324.50 L1357.91,325.00 L1358.32,325.50 L1358.73,326.00 L1359.13,326.50 L1359.51,327.00 L1359.89,327.50 L1360.25,328.00 L1360.60,328.50 L1360.93,329.00 L1361.24,329.50 L1361.52,330.00 L1361.79,330.50 L1362.02,331.00 L1362.23,331.50 L1362.40,332.00 L1362.56,332.50 L1362.71,333.00 L1362.87,333.50 L1363.02,334.00 L1363.17,334.50 L1363.31,335.00 L1363.45,335.50 L1363.58,336.00 L1363.71,336.50 L1363.83,337.00 L1363.94,337.50 L1364.05,338.00 L1364.14,338.50 L1364.23,339.00 L1364.30,339.50 L1364.37,340.00 L1364.42,340.50 L1364.46,341.00 L1364.49,341.50 L1364.50,342.00 L1364.50,342.50 L1364.47,343.00 L1364.42,343.50 L1364.36,344.00 L1364.27,344.50 L1364.16,345.00 L1364.04,345.50 L1363.91,346.00 L1363.76,346.50 L1363.59,347.00 L1363.42,347.50 L1363.24,348.00 L1363.04,348.50 L1362.84,349.00 L1362.64,349.50 L1362.43,350.00 L1362.22,350.50 L1362.00,351.00 L1361.79,351.50 L1361.57,352.00 L1361.36,352.50 L1361.12,353.00 L1360.87,353.50 L1360.58,354.00 L1360.27,354.50 L1359.95,355.00 L1359.60,355.50 L1359.24,356.00 L1358.87,356.50 L1358.49,357.00 L1358.10,357.50 L1357.70,358.00 L1357.30,358.50 L1356.89,359.00 L1356.49,359.50 L1356.09,360.00 L1355.70,360.50 L1355.31,361.00 L1354.94,361.50 L1354.58,362.00 L1354.23,362.50 L1353.90,363.00 L1353.58,363.50 L1353.27,364.00 L1352.95,364.50 L1352.64,365.00 L1352.34,365.50 L1352.03,366.00 L1351.73,366.50 L1351.43,367.00 L1351.14,367.50 L1350.84,368.00 L1350.55,368.50 L1350.26,369.00 L1349.97,369.50 L1349.68,370.00 L1349.40,370.50 L1349.12,371.00 L1348.83,371.50 L1348.55,372.00 L1348.27,372.50 L1348.00,373.00 L1347.72,373.50 L1347.44,374.00 L1347.17,374.50 L1346.89,375.00 L1346.62,375.50 L1346.35,376.00 L1346.08,376.50 L1345.81,377.00 L1345.54,377.50 L1345.28,378.00 L1345.02,378.50 L1344.76,379.00 L1344.50,379.50 L1344.24,380.00 L1343.98,380.50 L1343.72,381.00 L1343.47,381.50 L1343.21,382.00 L1342.96,382.50 L1342.70,383.00 L1342.44,383.50 L1342.19,384.00 L1341.93,384.50 L1341.67,385.00 L1341.42,385.50 L1341.16,386.00 L1340.90,386.50 L1340.64,387.00 L1340.37,387.50 L1340.11,388.00 L1339.84,388.50 L1339.57,389.00 L1339.30,389.50 L1339.03,390.00 L1338.76,390.50 L1338.50,391.00 L1338.23,391.50 L1337.97,392.00 L1337.71,392.50 L1337.46,393.00 L1337.21,393.50 L1336.97,394.00 L1336.73,394.50 L1336.50,395.00 L1336.27,395.50 L1336.05,396.00 L1335.83,396.50 L1335.61,397.00 L1335.39,397.50 L1335.17,398.00 L1334.95,398.50 L1334.74,399.00 L1334.53,399.50 L1334.33,400.00 L1334.12,400.50 L1333.93,401.00 L1333.73,401.50 L1333.54,402.00 L1333.36,402.50 L1333.17,403.00 L1333.00,403.50 L1332.83,404.00 L1332.66,404.50 L1332.50,405.00 L1332.34,405.50 L1332.19,406.00 L1332.03,406.50 L1331.88,407.00 L1331.73,407.50 L1331.58,408.00 L1331.44,408.50 L1331.30,409.00 L1331.16,409.50 L1331.03,410.00 L1330.90,410.50 L1330.78,411.00 L1330.67,411.50 L1330.56,412.00 L1330.46,412.50 L1330.37,413.00 L1330.28,413.50 L1330.20,414.00 L1330.13,414.50 L1330.05,415.00 L1329.98,415.50 L1329.91,416.00 L1329.85,416.50 L1329.79,417.00 L1329.73,417.50 L1329.68,418.00 L1329.63,418.50 L1329.58,419.00 L1329.54,419.50 L1329.50,420.00 L1329.46,420.50 L1329.43,421.00 L1329.39,421.50 L1329.36,422.00 L1329.32,422.50 L1329.29,423.00 L1329.26,423.50 L1329.25,424.00 L1329.25,424.50 L1329.25,425.00 L1329.25,425.50 L1329.25,426.00 L1329.25,426.50 L1329.25,427.00 L1329.25,427.50 L1329.25,428.00 L1329.25,428.50 L1329.25,429.00 L1329.25,429.50 L1329.25,430.00 L1329.25,430.50 L1329.25,431.00 L1329.25,431.50 L1329.25,432.00 L1329.25,432.50 L1329.25,433.00 L1329.25,433.50 L1329.25,434.00 L1329.25,434.50 L1329.25,435.00 L1329.25,435.50 L1329.25,436.00 L1329.25,436.50 L1329.25,436.90 L1328.75,436.90 L1328.75,436.50 L1328.75,436.00 L1328.75,435.50 L1328.75,435.00 L1328.75,434.50 L1328.75,434.00 L1328.75,433.50 L1328.75,433.00 L1328.75,432.50 L1328.75,432.00 L1328.75,431.50 L1328.75,431.00 L1328.75,430.50 L1328.75,430.00 L1328.75,429.50 L1328.75,429.00 L1328.75,428.50 L1328.75,428.00 L1328.75,427.50 L1328.75,427.00 L1328.75,426.50 L1328.75,426.00 L1328.75,425.50 L1328.75,425.00 L1328.75,424.50 L1328.75,424.00 L1328.74,423.50 L1328.71,423.00 L1328.68,422.50 L1328.64,422.00 L1328.61,421.50 L1328.57,421.00 L1328.54,420.50 L1328.50,420.00 L1328.46,419.50 L1328.42,419.00 L1328.37,418.50 L1328.32,418.00 L1328.27,417.50 L1328.21,417.00 L1328.15,416.50 L1328.09,416.00 L1328.02,415.50 L1327.95,415.00 L1327.87,414.50 L1327.80,414.00 L1327.72,413.50 L1327.63,413.00 L1327.54,412.50 L1327.44,412.00 L1327.33,411.50 L1327.22,411.00 L1327.10,410.50 L1326.97,410.00 L1326.84,409.50 L1326.70,409.00 L1326.56,408.50 L1326.42,408.00 L1326.27,407.50 L1326.12,407.00 L1325.97,406.50 L1325.81,406.00 L1325.66,405.50 L1325.50,405.00 L1325.34,404.50 L1325.17,404.00 L1325.00,403.50 L1324.83,403.00 L1324.64,402.50 L1324.46,402.00 L1324.27,401.50 L1324.07,401.00 L1323.88,400.50 L1323.67,400.00 L1323.47,399.50 L1323.26,399.00 L1323.05,398.50 L1322.83,398.00 L1322.61,397.50 L1322.39,397.00 L1322.17,396.50 L1321.95,396.00 L1321.73,395.50 L1321.50,395.00 L1321.27,394.50 L1321.03,394.00 L1320.79,393.50 L1320.54,393.00 L1320.29,392.50 L1320.03,392.00 L1319.77,391.50 L1319.50,391.00 L1319.24,390.50 L1318.97,390.00 L1318.70,389.50 L1318.43,389.00 L1318.16,388.50 L1317.89,388.00 L1317.63,387.50 L1317.36,387.00 L1317.10,386.50 L1316.84,386.00 L1316.58,385.50 L1316.33,385.00 L1316.07,384.50 L1315.81,384.00 L1315.56,383.50 L1315.30,383.00 L1315.04,382.50 L1314.79,382.00 L1314.53,381.50 L1314.28,381.00 L1314.02,380.50 L1313.76,380.00 L1313.50,379.50 L1313.24,379.00 L1312.98,378.50 L1312.72,378.00 L1312.46,377.50 L1312.19,377.00 L1311.92,376.50 L1311.65,376.00 L1311.38,375.50 L1311.11,375.00 L1310.83,374.50 L1310.56,374.00 L1310.28,373.50 L1310.00,373.00 L1309.73,372.50 L1309.45,372.00 L1309.17,371.50 L1308.88,371.00 L1308.60,370.50 L1308.32,370.00 L1308.03,369.50 L1307.74,369.00 L1307.45,368.50 L1307.16,368.00 L1306.86,367.50 L1306.57,367.00 L1306.27,366.50 L1305.97,366.00 L1305.66,365.50 L1305.36,365.00 L1305.05,364.50 L1304.73,364.00 L1304.42,363.50 L1304.10,363.00 L1303.77,362.50 L1303.42,362.00 L1303.06,361.50 L1302.69,361.00 L1302.30,360.50 L1301.91,360.00 L1301.51,359.50 L1301.11,359.00 L1300.70,358.50 L1300.30,358.00 L1299.90,357.50 L1299.51,357.00 L1299.13,356.50 L1298.76,356.00 L1298.40,355.50 L1298.05,355.00 L1297.73,354.50 L1297.42,354.00 L1297.13,353.50 L1296.88,353.00 L1296.64,352.50 L1296.43,352.00 L1296.21,351.50 L1296.00,351.00 L1295.78,350.50 L1295.57,350.00 L1295.36,349.50 L1295.16,349.00 L1294.96,348.50 L1294.76,348.00 L1294.58,347.50 L1294.41,347.00 L1294.24,346.50 L1294.09,346.00 L1293.96,345.50 L1293.84,345.00 L1293.73,344.50 L1293.64,344.00 L1293.58,343.50 L1293.53,343.00 L1293.50,342.50 L1293.50,342.00 L1293.51,341.50 L1293.54,341.00 L1293.58,340.50 L1293.63,340.00 L1293.70,339.50 L1293.77,339.00 L1293.86,338.50 L1293.95,338.00 L1294.06,337.50 L1294.17,337.00 L1294.29,336.50 L1294.42,336.00 L1294.55,335.50 L1294.69,335.00 L1294.83,334.50 L1294.98,334.00 L1295.13,333.50 L1295.29,333.00 L1295.44,332.50 L1295.60,332.00 L1295.77,331.50 L1295.98,331.00 L1296.21,330.50 L1296.48,330.00 L1296.76,329.50 L1297.07,329.00 L1297.40,328.50 L1297.75,328.00 L1298.11,327.50 L1298.49,327.00 L1298.87,326.50 L1299.27,326.00 L1299.68,325.50 L1300.09,325.00 L1300.51,324.50 L1300.92,324.00 L1301.34,323.50 L1301.75,323.00 L1302.16,322.50 L1302.56,322.00 L1302.95,321.50 L1303.33,321.00 L1303.71,320.50 L1304.10,320.00 L1304.49,319.50 L1304.89,319.00 L1305.29,318.50 L1305.69,318.00 L1306.10,317.50 L1306.51,317.00 L1306.92,316.50 L1307.34,316.00 L1307.75,315.50 L1308.18,315.00 L1308.60,314.50 L1309.03,314.00 L1309.46,313.50 L1309.89,313.00 L1310.33,312.50 L1310.77,312.00 L1311.21,311.50 L1311.66,311.00 L1312.14,310.50 L1312.63,310.00 L1313.15,309.50 L1313.68,309.00 L1314.22,308.50 L1314.76,308.00 L1315.32,307.50 L1315.88,307.00 L1316.43,306.50 L1316.98,306.00 L1317.53,305.50 L1318.07,305.00 L1318.59,304.50 L1319.09,304.00 L1319.58,303.50 L1320.05,303.00 L1320.49,302.50 L1320.90,302.00 L1321.28,301.50 L1321.62,301.00 L1321.93,300.50 L1322.20,300.00 L1322.44,299.50 L1322.66,299.00 L1322.87,298.50 L1323.06,298.00 L1323.25,297.50 L1323.42,297.00 L1323.59,296.50 L1323.75,296.00 L1323.90,295.50 L1324.05,295.00 L1324.20,294.50 L1324.35,294.00 L1324.49,293.50 L1324.64,293.00 L1324.79,292.50 L1324.94,292.00 L1325.10,291.50 L1325.27,291.00 L1325.45,290.50 L1325.65,290.00 L1325.85,289.50 L1326.05,289.00 L1326.26,288.50 L1326.46,288.00 L1326.66,287.50 L1326.85,287.00 L1327.03,286.50 L1327.20,286.00 L1327.34,285.50 L1327.47,285.00 L1327.57,284.50 L1327.64,284.00 L1327.69,283.50 L1327.70,283.00 L1327.67,282.50 L1327.60,282.00 L1327.49,281.50 L1327.35,281.00 L1327.19,280.50 L1327.00,280.00 L1326.80,279.50 L1326.59,279.00 L1326.37,278.50 L1326.15,278.00 L1325.93,277.50 L1325.72,277.00 L1325.52,276.50 L1325.31,276.00 L1325.09,275.50 L1324.86,275.00 L1324.62,274.50 L1324.37,274.00 L1324.11,273.50 L1323.85,273.00 L1323.59,272.50 L1323.32,272.00 L1323.06,271.50 L1322.80,271.00 L1322.54,270.50 L1322.29,270.00 L1322.04,269.50 L1321.81,269.00 L1321.59,268.50 L1321.37,268.00 L1321.15,267.50 L1320.93,267.00 L1320.70,266.50 L1320.48,266.00 L1320.25,265.50 L1320.03,265.00 L1319.81,264.50 L1319.60,264.00 L1319.40,263.50 L1319.21,263.00 L1319.03,262.50 L1318.87,262.00 L1318.72,261.50 L1318.59,261.00 L1318.49,260.50 L1318.40,260.00 L1318.33,259.50 L1318.26,259.00 L1318.19,258.50 L1318.12,258.00 L1318.05,257.50 L1317.99,257.00 L1317.93,256.50 L1317.88,256.00 L1317.83,255.50 L1317.78,255.00 L1317.74,254.50 L1317.70,254.00 L1317.67,253.50 L1317.64,253.00 L1317.62,252.50 L1317.61,252.00 L1317.60,251.50 L1317.60,251.00 L1317.61,250.50 L1317.64,250.00 L1317.67,249.50 L1317.71,249.00 L1317.77,248.50 L1317.83,248.00 L1317.90,247.50 L1317.97,247.00 L1318.05,246.50 L1318.13,246.00 L1318.21,245.50 L1318.30,245.00 L1318.39,244.50 L1318.48,244.00 L1318.57,243.50 L1318.65,243.00 L1318.75,242.50 L1318.85,242.00 L1318.96,241.50 L1319.07,241.00 L1319.20,240.50 L1319.32,240.00 L1319.46,239.50 L1319.59,239.00 L1319.73,238.50 L1319.88,238.00 L1320.03,237.50 L1320.18,237.00 L1320.33,236.50 L1320.49,236.00 L1320.64,235.50 L1320.80,235.00 L1320.96,234.50 L1321.14,234.00 L1321.32,233.50 L1321.51,233.00 L1321.70,232.50 L1321.90,232.00 L1322.11,231.50 L1322.31,231.00 L1322.52,230.50 L1322.73,230.00 L1322.94,229.50 L1323.14,229.00 L1323.34,228.50 L1323.53,228.00 L1323.72,227.50 L1323.90,227.00 L1324.07,226.50 L1324.23,226.00 L1324.40,225.50 L1324.56,225.00 L1324.73,224.50 L1324.89,224.00 L1325.05,223.50 L1325.20,223.00 L1325.36,222.50 L1325.51,222.00 L1325.65,221.50 L1325.80,221.00 L1325.94,220.50 L1326.07,220.00 L1326.20,219.50 L1326.33,219.00 L1326.45,218.50 L1326.57,218.00 L1326.69,217.50 L1326.80,217.00 L1326.91,216.50 L1327.02,216.00 L1327.13,215.50 L1327.24,215.00 L1327.34,214.50 L1327.44,214.00 L1327.54,213.50 L1327.63,213.00 L1327.72,212.50 L1327.81,212.00 L1327.89,211.50 L1327.96,211.00 L1328.04,210.50 L1328.10,210.00 L1328.16,209.50 L1328.22,209.00 L1328.28,208.50 L1328.34,208.00 L1328.40,207.50 L1328.46,207.00 L1328.51,206.50 L1328.56,206.00 L1328.60,205.50 L1328.64,205.00 L1328.68,204.50 L1328.71,204.00 L1328.73,203.50 L1328.75,203.00 L1328.75,202.50 L1328.75,202.00 L1328.75,201.50 L1328.75,201.00 L1328.75,200.50 L1328.75,200.00 L1328.75,199.50 L1328.75,199.00 L1328.75,198.50 L1328.75,198.00 L1328.75,197.50 L1328.75,197.00 L1328.75,196.50 L1328.75,196.00Z" fill="#0000ff" stroke="#000" stroke-width="4.2" stroke-linejoin="round"/>
<path d="M1320.79,304.40H1337.21" stroke="#000" stroke-width="1.6" stroke-dasharray="1.5,2.9"/>
<path d="M1295.60,342.40H1362.40" stroke="#000" stroke-width="2" stroke-dasharray="3.3,3.9"/>
<path d="M1305.94,362.60H1352.06" stroke="#000" stroke-width="1.6" stroke-dasharray="1.5,2.9"/>
<path d="M1446.75,164.50 L1446.75,165.00 L1446.75,165.50 L1446.75,166.00 L1446.75,166.50 L1446.75,167.00 L1446.75,167.50 L1446.75,168.00 L1446.75,168.50 L1446.75,169.00 L1446.75,169.50 L1446.75,170.00 L1446.75,170.50 L1446.75,171.00 L1446.75,171.50 L1446.75,172.00 L1446.76,172.50 L1446.78,173.00 L1446.79,173.50 L1446.81,174.00 L1446.83,174.50 L1446.85,175.00 L1446.87,175.50 L1446.89,176.00 L1446.91,176.50 L1446.94,177.00 L1446.96,177.50 L1446.99,178.00 L1447.02,178.50 L1447.04,179.00 L1447.07,179.50 L1447.10,180.00 L1447.13,180.50 L1447.16,181.00 L1447.20,181.50 L1447.24,182.00 L1447.28,182.50 L1447.32,183.00 L1447.36,183.50 L1447.40,184.00 L1447.45,184.50 L1447.50,185.00 L1447.55,185.50 L1447.60,186.00 L1447.65,186.50 L1447.71,187.00 L1447.76,187.50 L1447.82,188.00 L1447.88,188.50 L1447.95,189.00 L1448.01,189.50 L1448.08,190.00 L1448.15,190.50 L1448.23,191.00 L1448.30,191.50 L1448.38,192.00 L1448.46,192.50 L1448.55,193.00 L1448.64,193.50 L1448.73,194.00 L1448.84,194.50 L1448.95,195.00 L1449.07,195.50 L1449.20,196.00 L1449.33,196.50 L1449.46,197.00 L1449.60,197.50 L1449.74,198.00 L1449.87,198.50 L1450.01,199.00 L1450.15,199.50 L1450.28,200.00 L1450.41,200.50 L1450.54,201.00 L1450.65,201.50 L1450.77,202.00 L1450.88,202.50 L1451.00,203.00 L1451.12,203.50 L1451.23,204.00 L1451.35,204.50 L1451.46,205.00 L1451.56,205.50 L1451.67,206.00 L1451.76,206.50 L1451.85,207.00 L1451.93,207.50 L1452.00,208.00 L1452.07,208.50 L1452.13,209.00 L1452.20,209.50 L1452.27,210.00 L1452.33,210.50 L1452.39,211.00 L1452.45,211.50 L1452.49,212.00 L1452.53,212.50 L1452.57,213.00 L1452.59,213.50 L1452.60,214.00 L1452.60,214.50 L1452.59,215.00 L1452.59,215.50 L1452.57,216.00 L1452.56,216.50 L1452.54,217.00 L1452.52,217.50 L1452.50,218.00 L1452.48,218.50 L1452.45,219.00 L1452.43,219.50 L1452.40,220.00 L1452.37,220.50 L1452.33,221.00 L1452.29,221.50 L1452.24,222.00 L1452.19,222.50 L1452.13,223.00 L1452.06,223.50 L1452.00,224.00 L1451.93,224.50 L1451.86,225.00 L1451.78,225.50 L1451.71,226.00 L1451.63,226.50 L1451.55,227.00 L1451.46,227.50 L1451.37,228.00 L1451.26,228.50 L1451.15,229.00 L1451.03,229.50 L1450.91,230.00 L1450.79,230.50 L1450.66,231.00 L1450.54,231.50 L1450.41,232.00 L1450.30,232.50 L1450.18,233.00 L1450.07,233.50 L1449.97,234.00 L1449.88,234.50 L1449.80,235.00 L1449.72,235.50 L1449.64,236.00 L1449.56,236.50 L1449.48,237.00 L1449.41,237.50 L1449.34,238.00 L1449.28,238.50 L1449.24,239.00 L1449.21,239.50 L1449.20,240.00 L1449.21,240.50 L1449.24,241.00 L1449.28,241.50 L1449.33,242.00 L1449.40,242.50 L1449.47,243.00 L1449.56,243.50 L1449.64,244.00 L1449.73,244.50 L1449.83,245.00 L1449.92,245.50 L1450.02,246.00 L1450.14,246.50 L1450.28,247.00 L1450.43,247.50 L1450.59,248.00 L1450.76,248.50 L1450.93,249.00 L1451.11,249.50 L1451.29,250.00 L1451.47,250.50 L1451.65,251.00 L1451.83,251.50 L1452.00,252.00 L1452.18,252.50 L1452.36,253.00 L1452.54,253.50 L1452.72,254.00 L1452.90,254.50 L1453.09,255.00 L1453.28,255.50 L1453.47,256.00 L1453.66,256.50 L1453.85,257.00 L1454.04,257.50 L1454.23,258.00 L1454.43,258.50 L1454.62,259.00 L1454.81,259.50 L1455.00,260.00 L1455.19,260.50 L1455.38,261.00 L1455.57,261.50 L1455.77,262.00 L1455.96,262.50 L1456.15,263.00 L1456.35,263.50 L1456.54,264.00 L1456.74,264.50 L1456.93,265.00 L1457.13,265.50 L1457.32,266.00 L1457.51,266.50 L1457.71,267.00 L1457.90,267.50 L1458.09,268.00 L1458.28,268.50 L1458.46,269.00 L1458.65,269.50 L1458.84,270.00 L1459.03,270.50 L1459.22,271.00 L1459.40,271.50 L1459.59,272.00 L1459.77,272.50 L1459.96,273.00 L1460.15,273.50 L1460.33,274.00 L1460.51,274.50 L1460.70,275.00 L1460.88,275.50 L1461.06,276.00 L1461.24,276.50 L1461.42,277.00 L1461.60,277.50 L1461.78,278.00 L1461.96,278.50 L1462.13,279.00 L1462.31,279.50 L1462.48,280.00 L1462.66,280.50 L1462.83,281.00 L1463.01,281.50 L1463.18,282.00 L1463.35,282.50 L1463.52,283.00 L1463.69,283.50 L1463.86,284.00 L1464.03,284.50 L1464.20,285.00 L1464.37,285.50 L1464.53,286.00 L1464.70,286.50 L1464.86,287.00 L1465.03,287.50 L1465.19,288.00 L1465.35,288.50 L1465.51,289.00 L1465.68,289.50 L1465.84,290.00 L1466.00,290.50 L1466.16,291.00 L1466.32,291.50 L1466.48,292.00 L1466.64,292.50 L1466.80,293.00 L1466.96,293.50 L1467.12,294.00 L1467.27,294.50 L1467.42,295.00 L1467.58,295.50 L1467.73,296.00 L1467.88,296.50 L1468.04,297.00 L1468.20,297.50 L1468.36,298.00 L1468.52,298.50 L1468.69,299.00 L1468.86,299.50 L1469.04,300.00 L1469.22,300.50 L1469.41,301.00 L1469.59,301.50 L1469.78,302.00 L1469.97,302.50 L1470.17,303.00 L1470.37,303.50 L1470.58,304.00 L1470.79,304.50 L1471.00,305.00 L1471.23,305.50 L1471.45,306.00 L1471.69,306.50 L1471.94,307.00 L1472.21,307.50 L1472.48,308.00 L1472.76,308.50 L1473.05,309.00 L1473.34,309.50 L1473.63,310.00 L1473.93,310.50 L1474.22,311.00 L1474.50,311.50 L1474.78,312.00 L1475.05,312.50 L1475.31,313.00 L1475.57,313.50 L1475.84,314.00 L1476.10,314.50 L1476.36,315.00 L1476.62,315.50 L1476.88,316.00 L1477.13,316.50 L1477.37,317.00 L1477.61,317.50 L1477.83,318.00 L1478.05,318.50 L1478.26,319.00 L1478.46,319.50 L1478.65,320.00 L1478.83,320.50 L1479.01,321.00 L1479.19,321.50 L1479.36,322.00 L1479.53,322.50 L1479.69,323.00 L1479.85,323.50 L1480.00,324.00 L1480.15,324.50 L1480.30,325.00 L1480.44,325.50 L1480.59,326.00 L1480.74,326.50 L1480.89,327.00 L1481.05,327.50 L1481.21,328.00 L1481.36,328.50 L1481.51,329.00 L1481.65,329.50 L1481.77,330.00 L1481.88,330.50 L1481.97,331.00 L1482.04,331.50 L1482.09,332.00 L1482.11,332.50 L1482.13,333.00 L1482.15,333.50 L1482.17,334.00 L1482.18,334.50 L1482.19,335.00 L1482.20,335.50 L1482.20,336.00 L1482.19,336.50 L1482.15,337.00 L1482.09,337.50 L1482.00,338.00 L1481.89,338.50 L1481.77,339.00 L1481.63,339.50 L1481.49,340.00 L1481.34,340.50 L1481.19,341.00 L1481.04,341.50 L1480.86,342.00 L1480.65,342.50 L1480.43,343.00 L1480.18,343.50 L1479.93,344.00 L1479.66,344.50 L1479.40,345.00 L1479.14,345.50 L1478.88,346.00 L1478.61,346.50 L1478.33,347.00 L1478.05,347.50 L1477.76,348.00 L1477.46,348.50 L1477.16,349.00 L1476.86,349.50 L1476.55,350.00 L1476.23,350.50 L1475.92,351.00 L1475.59,351.50 L1475.27,352.00 L1474.92,352.50 L1474.56,353.00 L1474.19,353.50 L1473.81,354.00 L1473.42,354.50 L1473.03,355.00 L1472.65,355.50 L1472.27,356.00 L1471.90,356.50 L1471.54,357.00 L1471.20,357.50 L1470.88,358.00 L1470.58,358.50 L1470.30,359.00 L1470.02,359.50 L1469.74,360.00 L1469.48,360.50 L1469.22,361.00 L1468.96,361.50 L1468.72,362.00 L1468.48,362.50 L1468.24,363.00 L1468.02,363.50 L1467.80,364.00 L1467.59,364.50 L1467.39,365.00 L1467.20,365.50 L1467.02,366.00 L1466.84,366.50 L1466.68,367.00 L1466.52,367.50 L1466.36,368.00 L1466.21,368.50 L1466.07,369.00 L1465.93,369.50 L1465.78,370.00 L1465.64,370.50 L1465.50,371.00 L1465.36,371.50 L1465.21,372.00 L1465.06,372.50 L1464.90,373.00 L1464.74,373.50 L1464.58,374.00 L1464.41,374.50 L1464.25,375.00 L1464.08,375.50 L1463.91,376.00 L1463.75,376.50 L1463.58,377.00 L1463.41,377.50 L1463.24,378.00 L1463.07,378.50 L1462.90,379.00 L1462.73,379.50 L1462.56,380.00 L1462.39,380.50 L1462.22,381.00 L1462.05,381.50 L1461.87,382.00 L1461.70,382.50 L1461.52,383.00 L1461.35,383.50 L1461.18,384.00 L1461.01,384.50 L1460.85,385.00 L1460.69,385.50 L1460.53,386.00 L1460.38,386.50 L1460.23,387.00 L1460.08,387.50 L1459.94,388.00 L1459.80,388.50 L1459.66,389.00 L1459.52,389.50 L1459.39,390.00 L1459.25,390.50 L1459.12,391.00 L1458.99,391.50 L1458.86,392.00 L1458.73,392.50 L1458.60,393.00 L1458.46,393.50 L1458.33,394.00 L1458.20,394.50 L1458.07,395.00 L1457.95,395.50 L1457.82,396.00 L1457.70,396.50 L1457.57,397.00 L1457.46,397.50 L1457.34,398.00 L1457.23,398.50 L1457.12,399.00 L1457.02,399.50 L1456.92,400.00 L1456.82,400.50 L1456.72,401.00 L1456.62,401.50 L1456.53,402.00 L1456.44,402.50 L1456.35,403.00 L1456.26,403.50 L1456.18,404.00 L1456.09,404.50 L1456.01,405.00 L1455.93,405.50 L1455.85,406.00 L1455.78,406.50 L1455.71,407.00 L1455.65,407.50 L1455.58,408.00 L1455.52,408.50 L1455.46,409.00 L1455.39,409.50 L1455.33,410.00 L1455.26,410.50 L1455.19,411.00 L1455.11,411.50 L1455.03,412.00 L1454.95,412.50 L1454.85,413.00 L1454.75,413.50 L1454.64,414.00 L1454.52,414.50 L1454.41,415.00 L1454.28,415.50 L1454.16,416.00 L1454.04,416.50 L1453.91,417.00 L1453.79,417.50 L1453.67,418.00 L1453.55,418.50 L1453.43,419.00 L1453.32,419.50 L1453.20,420.00 L1453.09,420.50 L1452.97,421.00 L1452.86,421.50 L1452.74,422.00 L1452.63,422.50 L1452.51,423.00 L1452.40,423.50 L1452.28,424.00 L1452.17,424.50 L1452.05,425.00 L1451.93,425.50 L1451.81,426.00 L1451.69,426.50 L1451.57,427.00 L1451.45,427.50 L1451.33,428.00 L1451.20,428.50 L1451.08,429.00 L1450.96,429.50 L1450.83,430.00 L1450.71,430.50 L1450.58,431.00 L1450.45,431.50 L1450.32,432.00 L1450.19,432.50 L1450.05,433.00 L1449.92,433.50 L1449.78,434.00 L1449.64,434.50 L1449.50,435.00 L1449.36,435.50 L1449.22,436.00 L1449.08,436.50 L1448.95,437.00 L1448.81,437.50 L1448.68,438.00 L1448.55,438.50 L1448.41,439.00 L1448.27,439.50 L1448.13,440.00 L1447.98,440.50 L1447.84,441.00 L1447.70,441.50 L1447.56,442.00 L1447.43,442.50 L1447.32,443.00 L1447.21,443.50 L1447.12,444.00 L1447.04,444.50 L1446.98,445.00 L1446.92,445.50 L1446.86,446.00 L1446.81,446.50 L1446.76,447.00 L1446.75,447.50 L1446.75,448.00 L1446.75,448.50 L1446.75,449.00 L1446.75,449.50 L1446.75,450.00 L1446.75,450.50 L1446.75,451.00 L1446.75,451.50 L1446.75,452.00 L1446.75,452.50 L1446.75,453.00 L1446.75,453.50 L1446.75,454.00 L1446.75,454.50 L1446.75,455.00 L1446.75,455.50 L1446.75,456.00 L1446.75,456.50 L1446.75,457.00 L1446.75,457.50 L1446.75,458.00 L1446.75,458.50 L1446.75,459.00 L1446.75,459.50 L1446.75,460.00 L1446.75,460.50 L1446.75,461.00 L1446.75,461.50 L1446.75,462.00 L1446.75,462.50 L1446.75,463.00 L1446.75,463.50 L1446.75,464.00 L1446.75,464.50 L1446.75,465.00 L1446.75,465.50 L1446.75,466.00 L1446.75,466.50 L1446.75,467.00 L1446.75,467.50 L1446.75,468.00 L1446.75,468.50 L1446.75,469.00 L1446.75,469.50 L1446.75,470.00 L1446.75,470.50 L1446.75,471.00 L1446.75,471.50 L1446.75,471.80 L1446.25,471.80 L1446.25,471.50 L1446.25,471.00 L1446.25,470.50 L1446.25,470.00 L1446.25,469.50 L1446.25,469.00 L1446.25,468.50 L1446.25,468.00 L1446.25,467.50 L1446.25,467.00 L1446.25,466.50 L1446.25,466.00 L1446.25,465.50 L1446.25,465.00 L1446.25,464.50 L1446.25,464.00 L1446.25,463.50 L1446.25,463.00 L1446.25,462.50 L1446.25,462.00 L1446.25,461.50 L1446.25,461.00 L1446.25,460.50 L1446.25,460.00 L1446.25,459.50 L1446.25,459.00 L1446.25,458.50 L1446.25,458.00 L1446.25,457.50 L1446.25,457.00 L1446.25,456.50 L1446.25,456.00 L1446.25,455.50 L1446.25,455.00 L1446.25,454.50 L1446.25,454.00 L1446.25,453.50 L1446.25,453.00 L1446.25,452.50 L1446.25,452.00 L1446.25,451.50 L1446.25,451.00 L1446.25,450.50 L1446.25,450.00 L1446.25,449.50 L1446.25,449.00 L1446.25,448.50 L1446.25,448.00 L1446.25,447.50 L1446.24,447.00 L1446.19,446.50 L1446.14,446.00 L1446.08,445.50 L1446.02,445.00 L1445.96,444.50 L1445.88,444.00 L1445.79,443.50 L1445.68,443.00 L1445.57,442.50 L1445.44,442.00 L1445.30,441.50 L1445.16,441.00 L1445.02,440.50 L1444.87,440.00 L1444.73,439.50 L1444.59,439.00 L1444.45,438.50 L1444.32,438.00 L1444.19,437.50 L1444.05,437.00 L1443.92,436.50 L1443.78,436.00 L1443.64,435.50 L1443.50,435.00 L1443.36,434.50 L1443.22,434.00 L1443.08,433.50 L1442.95,433.00 L1442.81,432.50 L1442.68,432.00 L1442.55,431.50 L1442.42,431.00 L1442.29,430.50 L1442.17,430.00 L1442.04,429.50 L1441.92,429.00 L1441.80,428.50 L1441.67,428.00 L1441.55,427.50 L1441.43,427.00 L1441.31,426.50 L1441.19,426.00 L1441.07,425.50 L1440.95,425.00 L1440.83,424.50 L1440.72,424.00 L1440.60,423.50 L1440.49,423.00 L1440.37,422.50 L1440.26,422.00 L1440.14,421.50 L1440.03,421.00 L1439.91,420.50 L1439.80,420.00 L1439.68,419.50 L1439.57,419.00 L1439.45,418.50 L1439.33,418.00 L1439.21,417.50 L1439.09,417.00 L1438.96,416.50 L1438.84,416.00 L1438.72,415.50 L1438.59,415.00 L1438.48,414.50 L1438.36,414.00 L1438.25,413.50 L1438.15,413.00 L1438.05,412.50 L1437.97,412.00 L1437.89,411.50 L1437.81,411.00 L1437.74,410.50 L1437.67,410.00 L1437.61,409.50 L1437.54,409.00 L1437.48,408.50 L1437.42,408.00 L1437.35,407.50 L1437.29,407.00 L1437.22,406.50 L1437.15,406.00 L1437.07,405.50 L1436.99,405.00 L1436.91,404.50 L1436.82,404.00 L1436.74,403.50 L1436.65,403.00 L1436.56,402.50 L1436.47,402.00 L1436.38,401.50 L1436.28,401.00 L1436.18,400.50 L1436.08,400.00 L1435.98,399.50 L1435.88,399.00 L1435.77,398.50 L1435.66,398.00 L1435.54,397.50 L1435.43,397.00 L1435.30,396.50 L1435.18,396.00 L1435.05,395.50 L1434.93,395.00 L1434.80,394.50 L1434.67,394.00 L1434.54,393.50 L1434.40,393.00 L1434.27,392.50 L1434.14,392.00 L1434.01,391.50 L1433.88,391.00 L1433.75,390.50 L1433.61,390.00 L1433.48,389.50 L1433.34,389.00 L1433.20,388.50 L1433.06,388.00 L1432.92,387.50 L1432.77,387.00 L1432.62,386.50 L1432.47,386.00 L1432.31,385.50 L1432.15,385.00 L1431.99,384.50 L1431.82,384.00 L1431.65,383.50 L1431.48,383.00 L1431.30,382.50 L1431.13,382.00 L1430.95,381.50 L1430.78,381.00 L1430.61,380.50 L1430.44,380.00 L1430.27,379.50 L1430.10,379.00 L1429.93,378.50 L1429.76,378.00 L1429.59,377.50 L1429.42,377.00 L1429.25,376.50 L1429.09,376.00 L1428.92,375.50 L1428.75,375.00 L1428.59,374.50 L1428.42,374.00 L1428.26,373.50 L1428.10,373.00 L1427.94,372.50 L1427.79,372.00 L1427.64,371.50 L1427.50,371.00 L1427.36,370.50 L1427.22,370.00 L1427.07,369.50 L1426.93,369.00 L1426.79,368.50 L1426.64,368.00 L1426.48,367.50 L1426.32,367.00 L1426.16,366.50 L1425.98,366.00 L1425.80,365.50 L1425.61,365.00 L1425.41,364.50 L1425.20,364.00 L1424.98,363.50 L1424.76,363.00 L1424.52,362.50 L1424.28,362.00 L1424.04,361.50 L1423.78,361.00 L1423.52,360.50 L1423.26,360.00 L1422.98,359.50 L1422.70,359.00 L1422.42,358.50 L1422.12,358.00 L1421.80,357.50 L1421.46,357.00 L1421.10,356.50 L1420.73,356.00 L1420.35,355.50 L1419.97,355.00 L1419.58,354.50 L1419.19,354.00 L1418.81,353.50 L1418.44,353.00 L1418.08,352.50 L1417.73,352.00 L1417.41,351.50 L1417.08,351.00 L1416.77,350.50 L1416.45,350.00 L1416.14,349.50 L1415.84,349.00 L1415.54,348.50 L1415.24,348.00 L1414.95,347.50 L1414.67,347.00 L1414.39,346.50 L1414.12,346.00 L1413.86,345.50 L1413.60,345.00 L1413.34,344.50 L1413.07,344.00 L1412.82,343.50 L1412.57,343.00 L1412.35,342.50 L1412.14,342.00 L1411.96,341.50 L1411.81,341.00 L1411.66,340.50 L1411.51,340.00 L1411.37,339.50 L1411.23,339.00 L1411.11,338.50 L1411.00,338.00 L1410.91,337.50 L1410.85,337.00 L1410.81,336.50 L1410.80,336.00 L1410.80,335.50 L1410.81,335.00 L1410.82,334.50 L1410.83,334.00 L1410.85,333.50 L1410.87,333.00 L1410.89,332.50 L1410.91,332.00 L1410.96,331.50 L1411.03,331.00 L1411.12,330.50 L1411.23,330.00 L1411.35,329.50 L1411.49,329.00 L1411.64,328.50 L1411.79,328.00 L1411.95,327.50 L1412.11,327.00 L1412.26,326.50 L1412.41,326.00 L1412.56,325.50 L1412.70,325.00 L1412.85,324.50 L1413.00,324.00 L1413.15,323.50 L1413.31,323.00 L1413.47,322.50 L1413.64,322.00 L1413.81,321.50 L1413.99,321.00 L1414.17,320.50 L1414.35,320.00 L1414.54,319.50 L1414.74,319.00 L1414.95,318.50 L1415.17,318.00 L1415.39,317.50 L1415.63,317.00 L1415.87,316.50 L1416.12,316.00 L1416.38,315.50 L1416.64,315.00 L1416.90,314.50 L1417.16,314.00 L1417.43,313.50 L1417.69,313.00 L1417.95,312.50 L1418.22,312.00 L1418.50,311.50 L1418.78,311.00 L1419.07,310.50 L1419.37,310.00 L1419.66,309.50 L1419.95,309.00 L1420.24,308.50 L1420.52,308.00 L1420.79,307.50 L1421.06,307.00 L1421.31,306.50 L1421.55,306.00 L1421.77,305.50 L1422.00,305.00 L1422.21,304.50 L1422.42,304.00 L1422.63,303.50 L1422.83,303.00 L1423.03,302.50 L1423.22,302.00 L1423.41,301.50 L1423.59,301.00 L1423.78,300.50 L1423.96,300.00 L1424.14,299.50 L1424.31,299.00 L1424.48,298.50 L1424.64,298.00 L1424.80,297.50 L1424.96,297.00 L1425.12,296.50 L1425.27,296.00 L1425.42,295.50 L1425.58,295.00 L1425.73,294.50 L1425.88,294.00 L1426.04,293.50 L1426.20,293.00 L1426.36,292.50 L1426.52,292.00 L1426.68,291.50 L1426.84,291.00 L1427.00,290.50 L1427.16,290.00 L1427.32,289.50 L1427.49,289.00 L1427.65,288.50 L1427.81,288.00 L1427.97,287.50 L1428.14,287.00 L1428.30,286.50 L1428.47,286.00 L1428.63,285.50 L1428.80,285.00 L1428.97,284.50 L1429.14,284.00 L1429.31,283.50 L1429.48,283.00 L1429.65,282.50 L1429.82,282.00 L1429.99,281.50 L1430.17,281.00 L1430.34,280.50 L1430.52,280.00 L1430.69,279.50 L1430.87,279.00 L1431.04,278.50 L1431.22,278.00 L1431.40,277.50 L1431.58,277.00 L1431.76,276.50 L1431.94,276.00 L1432.12,275.50 L1432.30,275.00 L1432.49,274.50 L1432.67,274.00 L1432.85,273.50 L1433.04,273.00 L1433.23,272.50 L1433.41,272.00 L1433.60,271.50 L1433.78,271.00 L1433.97,270.50 L1434.16,270.00 L1434.35,269.50 L1434.54,269.00 L1434.72,268.50 L1434.91,268.00 L1435.10,267.50 L1435.29,267.00 L1435.49,266.50 L1435.68,266.00 L1435.87,265.50 L1436.07,265.00 L1436.26,264.50 L1436.46,264.00 L1436.65,263.50 L1436.85,263.00 L1437.04,262.50 L1437.23,262.00 L1437.43,261.50 L1437.62,261.00 L1437.81,260.50 L1438.00,260.00 L1438.19,259.50 L1438.38,259.00 L1438.57,258.50 L1438.77,258.00 L1438.96,257.50 L1439.15,257.00 L1439.34,256.50 L1439.53,256.00 L1439.72,255.50 L1439.91,255.00 L1440.10,254.50 L1440.28,254.00 L1440.46,253.50 L1440.64,253.00 L1440.82,252.50 L1441.00,252.00 L1441.17,251.50 L1441.35,251.00 L1441.53,250.50 L1441.71,250.00 L1441.89,249.50 L1442.07,249.00 L1442.24,248.50 L1442.41,248.00 L1442.57,247.50 L1442.72,247.00 L1442.86,246.50 L1442.98,246.00 L1443.08,245.50 L1443.17,245.00 L1443.27,244.50 L1443.36,244.00 L1443.44,243.50 L1443.53,243.00 L1443.60,242.50 L1443.67,242.00 L1443.72,241.50 L1443.76,241.00 L1443.79,240.50 L1443.80,240.00 L1443.79,239.50 L1443.76,239.00 L1443.72,238.50 L1443.66,238.00 L1443.59,237.50 L1443.52,237.00 L1443.44,236.50 L1443.36,236.00 L1443.28,235.50 L1443.20,235.00 L1443.12,234.50 L1443.03,234.00 L1442.93,233.50 L1442.82,233.00 L1442.70,232.50 L1442.59,232.00 L1442.46,231.50 L1442.34,231.00 L1442.21,230.50 L1442.09,230.00 L1441.97,229.50 L1441.85,229.00 L1441.74,228.50 L1441.63,228.00 L1441.54,227.50 L1441.45,227.00 L1441.37,226.50 L1441.29,226.00 L1441.22,225.50 L1441.14,225.00 L1441.07,224.50 L1441.00,224.00 L1440.94,223.50 L1440.87,223.00 L1440.81,222.50 L1440.76,222.00 L1440.71,221.50 L1440.67,221.00 L1440.63,220.50 L1440.60,220.00 L1440.57,219.50 L1440.55,219.00 L1440.52,218.50 L1440.50,218.00 L1440.48,217.50 L1440.46,217.00 L1440.44,216.50 L1440.43,216.00 L1440.41,215.50 L1440.41,215.00 L1440.40,214.50 L1440.40,214.00 L1440.41,213.50 L1440.43,213.00 L1440.47,212.50 L1440.51,212.00 L1440.55,211.50 L1440.61,211.00 L1440.67,210.50 L1440.73,210.00 L1440.80,209.50 L1440.87,209.00 L1440.93,208.50 L1441.00,208.00 L1441.07,207.50 L1441.15,207.00 L1441.24,206.50 L1441.33,206.00 L1441.44,205.50 L1441.54,205.00 L1441.65,204.50 L1441.77,204.00 L1441.88,203.50 L1442.00,203.00 L1442.12,202.50 L1442.23,202.00 L1442.35,201.50 L1442.46,201.00 L1442.59,200.50 L1442.72,200.00 L1442.85,199.50 L1442.99,199.00 L1443.13,198.50 L1443.26,198.00 L1443.40,197.50 L1443.54,197.00 L1443.67,196.50 L1443.80,196.00 L1443.93,195.50 L1444.05,195.00 L1444.16,194.50 L1444.27,194.00 L1444.36,193.50 L1444.45,193.00 L1444.54,192.50 L1444.62,192.00 L1444.70,191.50 L1444.77,191.00 L1444.85,190.50 L1444.92,190.00 L1444.99,189.50 L1445.05,189.00 L1445.12,188.50 L1445.18,188.00 L1445.24,187.50 L1445.29,187.00 L1445.35,186.50 L1445.40,186.00 L1445.45,185.50 L1445.50,185.00 L1445.55,184.50 L1445.60,184.00 L1445.64,183.50 L1445.68,183.00 L1445.72,182.50 L1445.76,182.00 L1445.80,181.50 L1445.84,181.00 L1445.87,180.50 L1445.90,180.00 L1445.93,179.50 L1445.96,179.00 L1445.98,178.50 L1446.01,178.00 L1446.04,177.50 L1446.06,177.00 L1446.09,176.50 L1446.11,176.00 L1446.13,175.50 L1446.15,175.00 L1446.17,174.50 L1446.19,174.00 L1446.21,173.50 L1446.22,173.00 L1446.24,172.50 L1446.25,172.00 L1446.25,171.50 L1446.25,171.00 L1446.25,170.50 L1446.25,170.00 L1446.25,169.50 L1446.25,169.00 L1446.25,168.50 L1446.25,168.00 L1446.25,167.50 L1446.25,167.00 L1446.25,166.50 L1446.25,166.00 L1446.25,165.50 L1446.25,165.00 L1446.25,164.50Z" fill="#808080" stroke="#000" stroke-width="4.2" stroke-linejoin="round"/>
<path d="M1427.15,296.70H1465.85" stroke="#000" stroke-width="1.6" stroke-dasharray="1.5,2.9"/>
<path d="M1413.45,329.50H1479.55" stroke="#000" stroke-width="2" stroke-dasharray="3.3,3.9"/>
<path d="M1426.29,361.80H1466.71" stroke="#000" stroke-width="1.6" stroke-dasharray="1.5,2.9"/>
<g stroke="#000" fill="none">
<path d="M1016.7,68V487" stroke-width="2.9"/>
<path d="M1008.3,485.4H1525.8" stroke-width="3"/>
<path d="M1008.2,381.50H1016M1008.2,277.50H1016M1008.2,173.50H1016M1008.2,69.50H1016" stroke-width="3"/>
<path d="M1094.2,476.5V485M1211.7,476.5V485M1328.6,476.5V485M1446.4,476.5V485" stroke-width="2.2"/>
<path d="M1211.8,317V126.5H1446V144.7" stroke-width="2.9"/>
</g>
<text transform="translate(993.00,494.68) scale(0.9190,1)" font-size="24.30" font-weight="bold" fill="#000" >0</text>
<text transform="translate(968.16,390.68) scale(0.9190,1)" font-size="24.30" font-weight="bold" fill="#000" >100</text>
<text transform="translate(968.16,286.68) scale(0.9190,1)" font-size="24.30" font-weight="bold" fill="#000" >200</text>
<text transform="translate(968.16,182.68) scale(0.9190,1)" font-size="24.30" font-weight="bold" fill="#000" >300</text>
<text transform="translate(968.16,78.68) scale(0.9190,1)" font-size="24.30" font-weight="bold" fill="#000" >400</text>
<text transform="translate(1046.96,28.80) scale(0.9168,1)" font-size="30.31" font-weight="bold" fill="#000" >Overall Cumulative Disease Index</text>
<text transform="translate(879.87,46.40) scale(0.8633,1)" font-size="33.43" font-weight="bold" fill="#000" style="stroke-width:1.2px">B</text>
<text transform="translate(1281.42,119.00) scale(0.9213,1)" font-size="21.61" font-weight="normal" fill="#000" >p = 0.0046</text>
<text transform="translate(927.20,439.46) scale(0.8960,1) rotate(-90) scale(0.9992,1)" font-size="25.80" font-weight="bold">Cumulative  Disease Index</text>
<text transform="translate(954.00,308.19) scale(0.8960,1) rotate(-90) scale(1.0077,1)" font-size="25.80" font-weight="bold">(CDI)</text>
<text transform="translate(1100.50,506.65) scale(0.9,1) rotate(-47)" text-anchor="end"><tspan font-size="15.0" font-weight="normal" dy="-9.50">177</tspan><tspan font-size="24.4" font-weight="bold" dy="9.50">Lu-<tspan font-family="'Liberation Serif', serif" font-weight="normal" font-size="115%">α</tspan>PD-1</tspan></text>
<text transform="translate(1220.80,507.50) scale(0.9,1) rotate(-47)" text-anchor="end"><tspan font-size="15.0" font-weight="normal" dy="-9.50">177</tspan><tspan font-size="24.4" font-weight="bold" dy="9.50">Lu-<tspan font-family="'Liberation Serif', serif" font-weight="normal" font-size="115%">α</tspan>PD-1 + FTY720</tspan></text>
<text transform="translate(1334.00,512.10) scale(0.9,1) rotate(-47)" text-anchor="end"><tspan font-size="24.4" font-weight="bold" dy="0.00">FTY720</tspan></text>
<text transform="translate(1454.60,507.00) scale(0.9,1) rotate(-47)" text-anchor="end"><tspan font-size="24.4" font-weight="bold" dy="0.00">Saline</tspan></text>
</svg></body></html>
